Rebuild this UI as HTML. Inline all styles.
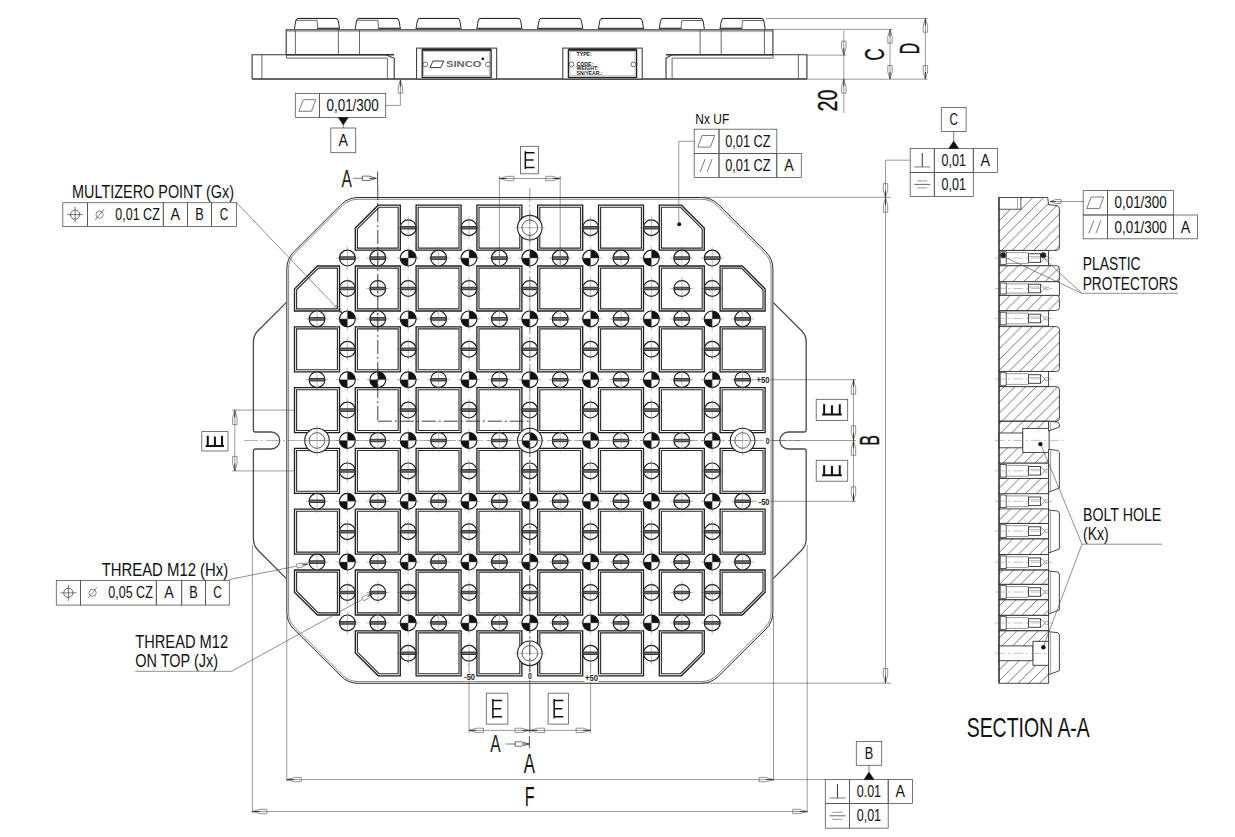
<!DOCTYPE html>
<html><head><meta charset="utf-8"><style>
html,body{margin:0;padding:0;background:#fff;width:1235px;height:837px;overflow:hidden}
svg{display:block}
text{font-family:"Liberation Sans",sans-serif}
</style></head><body>
<svg width="1235" height="837" viewBox="0 0 1235 837" font-family="Liberation Sans, sans-serif">
<rect width="1235" height="837" fill="#fff"/>
<path d="M 358.2 197.5 L 701.4 197.5 Q 711.4 197.5 718.47 204.57 L 765.83 251.83 Q 772.9 258.9 772.9 268.9 L 772.9 612.1 Q 772.9 622.1 765.83 629.17 L 718.47 676.23 Q 711.4 683.3 701.4 683.3 L 358.2 683.3 Q 348.2 683.3 341.13 676.23 L 293.87 629.17 Q 286.8 622.1 286.8 612.1 L 286.8 268.9 Q 286.8 258.9 293.87 251.83 L 341.13 204.57 Q 348.2 197.5 358.2 197.5 Z" stroke="#2a2a2a" stroke-width="1.0" fill="none"/>
<path d="M 357.95 199.3 L 701.65 199.3 Q 710.65 199.3 717.02 205.66 L 764.74 253.28 Q 771.1 259.65 771.1 268.65 L 771.1 612.35 Q 771.1 621.35 764.74 627.72 L 717.02 675.14 Q 710.65 681.5 701.65 681.5 L 357.95 681.5 Q 348.95 681.5 342.58 675.14 L 294.96 627.72 Q 288.6 621.35 288.6 612.35 L 288.6 268.65 Q 288.6 259.65 294.96 253.28 L 342.58 205.66 Q 348.95 199.3 357.95 199.3 Z" stroke="#666" stroke-width="0.8" fill="none"/>
<path d="M 286.2 302.6 L 258 330.8 Q 253.4 335.4 253.4 341.9 L 253.4 430 Q 253.4 432 255.4 432 L 271.2 432 A 8.5 8.5 0 0 1 271.2 449 L 255.4 449 Q 253.4 449 253.4 451 L 253.4 539.1 Q 253.4 545.6 258 550.2 L 286.2 578.4" stroke="#4a4a4a" stroke-width="1.3" fill="none"/>
<path d="M 773.4 302.6 L 801.6 330.8 Q 806.2 335.4 806.2 341.9 L 806.2 430 Q 806.2 432 804.2 432 L 788.4 432 A 8.5 8.5 0 0 0 788.4 449 L 804.2 449 Q 806.2 449 806.2 451 L 806.2 539.1 Q 806.2 545.6 801.6 550.2 L 773.4 578.4" stroke="#4a4a4a" stroke-width="1.3" fill="none"/>
<polygon points="355.3,228.08 378.18,205.2 400.3,205.2 400.3,250.2 355.3,250.2" stroke="#1e1e1e" stroke-width="1.3" fill="none"/>
<polygon points="357.4,228.95 379.05,207.3 398.2,207.3 398.2,248.1 357.4,248.1" stroke="#2a2a2a" stroke-width="1.1" fill="none"/>
<polygon points="416.1,205.2 461.1,205.2 461.1,250.2 416.1,250.2" stroke="#1e1e1e" stroke-width="1.3" fill="none"/>
<polygon points="418.2,207.3 459,207.3 459,248.1 418.2,248.1" stroke="#2a2a2a" stroke-width="1.1" fill="none"/>
<polygon points="476.9,205.2 521.9,205.2 521.9,250.2 476.9,250.2" stroke="#1e1e1e" stroke-width="1.3" fill="none"/>
<polygon points="479,207.3 519.8,207.3 519.8,248.1 479,248.1" stroke="#2a2a2a" stroke-width="1.1" fill="none"/>
<polygon points="537.7,205.2 582.7,205.2 582.7,250.2 537.7,250.2" stroke="#1e1e1e" stroke-width="1.3" fill="none"/>
<polygon points="539.8,207.3 580.6,207.3 580.6,248.1 539.8,248.1" stroke="#2a2a2a" stroke-width="1.1" fill="none"/>
<polygon points="598.5,205.2 643.5,205.2 643.5,250.2 598.5,250.2" stroke="#1e1e1e" stroke-width="1.3" fill="none"/>
<polygon points="600.6,207.3 641.4,207.3 641.4,248.1 600.6,248.1" stroke="#2a2a2a" stroke-width="1.1" fill="none"/>
<polygon points="659.3,205.2 681.42,205.2 704.3,228.08 704.3,250.2 659.3,250.2" stroke="#1e1e1e" stroke-width="1.3" fill="none"/>
<polygon points="661.4,207.3 680.55,207.3 702.2,228.95 702.2,248.1 661.4,248.1" stroke="#2a2a2a" stroke-width="1.1" fill="none"/>
<polygon points="294.5,288.88 317.38,266 339.5,266 339.5,311 294.5,311" stroke="#1e1e1e" stroke-width="1.3" fill="none"/>
<polygon points="296.6,289.75 318.25,268.1 337.4,268.1 337.4,308.9 296.6,308.9" stroke="#2a2a2a" stroke-width="1.1" fill="none"/>
<polygon points="355.3,266 400.3,266 400.3,311 355.3,311" stroke="#1e1e1e" stroke-width="1.3" fill="none"/>
<polygon points="357.4,268.1 398.2,268.1 398.2,308.9 357.4,308.9" stroke="#2a2a2a" stroke-width="1.1" fill="none"/>
<polygon points="416.1,266 461.1,266 461.1,311 416.1,311" stroke="#1e1e1e" stroke-width="1.3" fill="none"/>
<polygon points="418.2,268.1 459,268.1 459,308.9 418.2,308.9" stroke="#2a2a2a" stroke-width="1.1" fill="none"/>
<polygon points="476.9,266 521.9,266 521.9,311 476.9,311" stroke="#1e1e1e" stroke-width="1.3" fill="none"/>
<polygon points="479,268.1 519.8,268.1 519.8,308.9 479,308.9" stroke="#2a2a2a" stroke-width="1.1" fill="none"/>
<polygon points="537.7,266 582.7,266 582.7,311 537.7,311" stroke="#1e1e1e" stroke-width="1.3" fill="none"/>
<polygon points="539.8,268.1 580.6,268.1 580.6,308.9 539.8,308.9" stroke="#2a2a2a" stroke-width="1.1" fill="none"/>
<polygon points="598.5,266 643.5,266 643.5,311 598.5,311" stroke="#1e1e1e" stroke-width="1.3" fill="none"/>
<polygon points="600.6,268.1 641.4,268.1 641.4,308.9 600.6,308.9" stroke="#2a2a2a" stroke-width="1.1" fill="none"/>
<polygon points="659.3,266 704.3,266 704.3,311 659.3,311" stroke="#1e1e1e" stroke-width="1.3" fill="none"/>
<polygon points="661.4,268.1 702.2,268.1 702.2,308.9 661.4,308.9" stroke="#2a2a2a" stroke-width="1.1" fill="none"/>
<polygon points="720.1,266 742.22,266 765.1,288.88 765.1,311 720.1,311" stroke="#1e1e1e" stroke-width="1.3" fill="none"/>
<polygon points="722.2,268.1 741.35,268.1 763,289.75 763,308.9 722.2,308.9" stroke="#2a2a2a" stroke-width="1.1" fill="none"/>
<polygon points="294.5,326.8 339.5,326.8 339.5,371.8 294.5,371.8" stroke="#1e1e1e" stroke-width="1.3" fill="none"/>
<polygon points="296.6,328.9 337.4,328.9 337.4,369.7 296.6,369.7" stroke="#2a2a2a" stroke-width="1.1" fill="none"/>
<polygon points="355.3,326.8 400.3,326.8 400.3,371.8 355.3,371.8" stroke="#1e1e1e" stroke-width="1.3" fill="none"/>
<polygon points="357.4,328.9 398.2,328.9 398.2,369.7 357.4,369.7" stroke="#2a2a2a" stroke-width="1.1" fill="none"/>
<polygon points="416.1,326.8 461.1,326.8 461.1,371.8 416.1,371.8" stroke="#1e1e1e" stroke-width="1.3" fill="none"/>
<polygon points="418.2,328.9 459,328.9 459,369.7 418.2,369.7" stroke="#2a2a2a" stroke-width="1.1" fill="none"/>
<polygon points="476.9,326.8 521.9,326.8 521.9,371.8 476.9,371.8" stroke="#1e1e1e" stroke-width="1.3" fill="none"/>
<polygon points="479,328.9 519.8,328.9 519.8,369.7 479,369.7" stroke="#2a2a2a" stroke-width="1.1" fill="none"/>
<polygon points="537.7,326.8 582.7,326.8 582.7,371.8 537.7,371.8" stroke="#1e1e1e" stroke-width="1.3" fill="none"/>
<polygon points="539.8,328.9 580.6,328.9 580.6,369.7 539.8,369.7" stroke="#2a2a2a" stroke-width="1.1" fill="none"/>
<polygon points="598.5,326.8 643.5,326.8 643.5,371.8 598.5,371.8" stroke="#1e1e1e" stroke-width="1.3" fill="none"/>
<polygon points="600.6,328.9 641.4,328.9 641.4,369.7 600.6,369.7" stroke="#2a2a2a" stroke-width="1.1" fill="none"/>
<polygon points="659.3,326.8 704.3,326.8 704.3,371.8 659.3,371.8" stroke="#1e1e1e" stroke-width="1.3" fill="none"/>
<polygon points="661.4,328.9 702.2,328.9 702.2,369.7 661.4,369.7" stroke="#2a2a2a" stroke-width="1.1" fill="none"/>
<polygon points="720.1,326.8 765.1,326.8 765.1,371.8 720.1,371.8" stroke="#1e1e1e" stroke-width="1.3" fill="none"/>
<polygon points="722.2,328.9 763,328.9 763,369.7 722.2,369.7" stroke="#2a2a2a" stroke-width="1.1" fill="none"/>
<polygon points="294.5,387.6 339.5,387.6 339.5,432.6 294.5,432.6" stroke="#1e1e1e" stroke-width="1.3" fill="none"/>
<polygon points="296.6,389.7 337.4,389.7 337.4,430.5 296.6,430.5" stroke="#2a2a2a" stroke-width="1.1" fill="none"/>
<polygon points="355.3,387.6 400.3,387.6 400.3,432.6 355.3,432.6" stroke="#1e1e1e" stroke-width="1.3" fill="none"/>
<polygon points="357.4,389.7 398.2,389.7 398.2,430.5 357.4,430.5" stroke="#2a2a2a" stroke-width="1.1" fill="none"/>
<polygon points="416.1,387.6 461.1,387.6 461.1,432.6 416.1,432.6" stroke="#1e1e1e" stroke-width="1.3" fill="none"/>
<polygon points="418.2,389.7 459,389.7 459,430.5 418.2,430.5" stroke="#2a2a2a" stroke-width="1.1" fill="none"/>
<polygon points="476.9,387.6 521.9,387.6 521.9,432.6 476.9,432.6" stroke="#1e1e1e" stroke-width="1.3" fill="none"/>
<polygon points="479,389.7 519.8,389.7 519.8,430.5 479,430.5" stroke="#2a2a2a" stroke-width="1.1" fill="none"/>
<polygon points="537.7,387.6 582.7,387.6 582.7,432.6 537.7,432.6" stroke="#1e1e1e" stroke-width="1.3" fill="none"/>
<polygon points="539.8,389.7 580.6,389.7 580.6,430.5 539.8,430.5" stroke="#2a2a2a" stroke-width="1.1" fill="none"/>
<polygon points="598.5,387.6 643.5,387.6 643.5,432.6 598.5,432.6" stroke="#1e1e1e" stroke-width="1.3" fill="none"/>
<polygon points="600.6,389.7 641.4,389.7 641.4,430.5 600.6,430.5" stroke="#2a2a2a" stroke-width="1.1" fill="none"/>
<polygon points="659.3,387.6 704.3,387.6 704.3,432.6 659.3,432.6" stroke="#1e1e1e" stroke-width="1.3" fill="none"/>
<polygon points="661.4,389.7 702.2,389.7 702.2,430.5 661.4,430.5" stroke="#2a2a2a" stroke-width="1.1" fill="none"/>
<polygon points="720.1,387.6 765.1,387.6 765.1,432.6 720.1,432.6" stroke="#1e1e1e" stroke-width="1.3" fill="none"/>
<polygon points="722.2,389.7 763,389.7 763,430.5 722.2,430.5" stroke="#2a2a2a" stroke-width="1.1" fill="none"/>
<polygon points="294.5,448.4 339.5,448.4 339.5,493.4 294.5,493.4" stroke="#1e1e1e" stroke-width="1.3" fill="none"/>
<polygon points="296.6,450.5 337.4,450.5 337.4,491.3 296.6,491.3" stroke="#2a2a2a" stroke-width="1.1" fill="none"/>
<polygon points="355.3,448.4 400.3,448.4 400.3,493.4 355.3,493.4" stroke="#1e1e1e" stroke-width="1.3" fill="none"/>
<polygon points="357.4,450.5 398.2,450.5 398.2,491.3 357.4,491.3" stroke="#2a2a2a" stroke-width="1.1" fill="none"/>
<polygon points="416.1,448.4 461.1,448.4 461.1,493.4 416.1,493.4" stroke="#1e1e1e" stroke-width="1.3" fill="none"/>
<polygon points="418.2,450.5 459,450.5 459,491.3 418.2,491.3" stroke="#2a2a2a" stroke-width="1.1" fill="none"/>
<polygon points="476.9,448.4 521.9,448.4 521.9,493.4 476.9,493.4" stroke="#1e1e1e" stroke-width="1.3" fill="none"/>
<polygon points="479,450.5 519.8,450.5 519.8,491.3 479,491.3" stroke="#2a2a2a" stroke-width="1.1" fill="none"/>
<polygon points="537.7,448.4 582.7,448.4 582.7,493.4 537.7,493.4" stroke="#1e1e1e" stroke-width="1.3" fill="none"/>
<polygon points="539.8,450.5 580.6,450.5 580.6,491.3 539.8,491.3" stroke="#2a2a2a" stroke-width="1.1" fill="none"/>
<polygon points="598.5,448.4 643.5,448.4 643.5,493.4 598.5,493.4" stroke="#1e1e1e" stroke-width="1.3" fill="none"/>
<polygon points="600.6,450.5 641.4,450.5 641.4,491.3 600.6,491.3" stroke="#2a2a2a" stroke-width="1.1" fill="none"/>
<polygon points="659.3,448.4 704.3,448.4 704.3,493.4 659.3,493.4" stroke="#1e1e1e" stroke-width="1.3" fill="none"/>
<polygon points="661.4,450.5 702.2,450.5 702.2,491.3 661.4,491.3" stroke="#2a2a2a" stroke-width="1.1" fill="none"/>
<polygon points="720.1,448.4 765.1,448.4 765.1,493.4 720.1,493.4" stroke="#1e1e1e" stroke-width="1.3" fill="none"/>
<polygon points="722.2,450.5 763,450.5 763,491.3 722.2,491.3" stroke="#2a2a2a" stroke-width="1.1" fill="none"/>
<polygon points="294.5,509.2 339.5,509.2 339.5,554.2 294.5,554.2" stroke="#1e1e1e" stroke-width="1.3" fill="none"/>
<polygon points="296.6,511.3 337.4,511.3 337.4,552.1 296.6,552.1" stroke="#2a2a2a" stroke-width="1.1" fill="none"/>
<polygon points="355.3,509.2 400.3,509.2 400.3,554.2 355.3,554.2" stroke="#1e1e1e" stroke-width="1.3" fill="none"/>
<polygon points="357.4,511.3 398.2,511.3 398.2,552.1 357.4,552.1" stroke="#2a2a2a" stroke-width="1.1" fill="none"/>
<polygon points="416.1,509.2 461.1,509.2 461.1,554.2 416.1,554.2" stroke="#1e1e1e" stroke-width="1.3" fill="none"/>
<polygon points="418.2,511.3 459,511.3 459,552.1 418.2,552.1" stroke="#2a2a2a" stroke-width="1.1" fill="none"/>
<polygon points="476.9,509.2 521.9,509.2 521.9,554.2 476.9,554.2" stroke="#1e1e1e" stroke-width="1.3" fill="none"/>
<polygon points="479,511.3 519.8,511.3 519.8,552.1 479,552.1" stroke="#2a2a2a" stroke-width="1.1" fill="none"/>
<polygon points="537.7,509.2 582.7,509.2 582.7,554.2 537.7,554.2" stroke="#1e1e1e" stroke-width="1.3" fill="none"/>
<polygon points="539.8,511.3 580.6,511.3 580.6,552.1 539.8,552.1" stroke="#2a2a2a" stroke-width="1.1" fill="none"/>
<polygon points="598.5,509.2 643.5,509.2 643.5,554.2 598.5,554.2" stroke="#1e1e1e" stroke-width="1.3" fill="none"/>
<polygon points="600.6,511.3 641.4,511.3 641.4,552.1 600.6,552.1" stroke="#2a2a2a" stroke-width="1.1" fill="none"/>
<polygon points="659.3,509.2 704.3,509.2 704.3,554.2 659.3,554.2" stroke="#1e1e1e" stroke-width="1.3" fill="none"/>
<polygon points="661.4,511.3 702.2,511.3 702.2,552.1 661.4,552.1" stroke="#2a2a2a" stroke-width="1.1" fill="none"/>
<polygon points="720.1,509.2 765.1,509.2 765.1,554.2 720.1,554.2" stroke="#1e1e1e" stroke-width="1.3" fill="none"/>
<polygon points="722.2,511.3 763,511.3 763,552.1 722.2,552.1" stroke="#2a2a2a" stroke-width="1.1" fill="none"/>
<polygon points="294.5,570 339.5,570 339.5,615 317.38,615 294.5,592.12" stroke="#1e1e1e" stroke-width="1.3" fill="none"/>
<polygon points="296.6,572.1 337.4,572.1 337.4,612.9 318.25,612.9 296.6,591.25" stroke="#2a2a2a" stroke-width="1.1" fill="none"/>
<polygon points="355.3,570 400.3,570 400.3,615 355.3,615" stroke="#1e1e1e" stroke-width="1.3" fill="none"/>
<polygon points="357.4,572.1 398.2,572.1 398.2,612.9 357.4,612.9" stroke="#2a2a2a" stroke-width="1.1" fill="none"/>
<polygon points="416.1,570 461.1,570 461.1,615 416.1,615" stroke="#1e1e1e" stroke-width="1.3" fill="none"/>
<polygon points="418.2,572.1 459,572.1 459,612.9 418.2,612.9" stroke="#2a2a2a" stroke-width="1.1" fill="none"/>
<polygon points="476.9,570 521.9,570 521.9,615 476.9,615" stroke="#1e1e1e" stroke-width="1.3" fill="none"/>
<polygon points="479,572.1 519.8,572.1 519.8,612.9 479,612.9" stroke="#2a2a2a" stroke-width="1.1" fill="none"/>
<polygon points="537.7,570 582.7,570 582.7,615 537.7,615" stroke="#1e1e1e" stroke-width="1.3" fill="none"/>
<polygon points="539.8,572.1 580.6,572.1 580.6,612.9 539.8,612.9" stroke="#2a2a2a" stroke-width="1.1" fill="none"/>
<polygon points="598.5,570 643.5,570 643.5,615 598.5,615" stroke="#1e1e1e" stroke-width="1.3" fill="none"/>
<polygon points="600.6,572.1 641.4,572.1 641.4,612.9 600.6,612.9" stroke="#2a2a2a" stroke-width="1.1" fill="none"/>
<polygon points="659.3,570 704.3,570 704.3,615 659.3,615" stroke="#1e1e1e" stroke-width="1.3" fill="none"/>
<polygon points="661.4,572.1 702.2,572.1 702.2,612.9 661.4,612.9" stroke="#2a2a2a" stroke-width="1.1" fill="none"/>
<polygon points="720.1,570 765.1,570 765.1,592.12 742.22,615 720.1,615" stroke="#1e1e1e" stroke-width="1.3" fill="none"/>
<polygon points="722.2,572.1 763,572.1 763,591.25 741.35,612.9 722.2,612.9" stroke="#2a2a2a" stroke-width="1.1" fill="none"/>
<polygon points="355.3,630.8 400.3,630.8 400.3,675.8 378.18,675.8 355.3,652.92" stroke="#1e1e1e" stroke-width="1.3" fill="none"/>
<polygon points="357.4,632.9 398.2,632.9 398.2,673.7 379.05,673.7 357.4,652.05" stroke="#2a2a2a" stroke-width="1.1" fill="none"/>
<polygon points="416.1,630.8 461.1,630.8 461.1,675.8 416.1,675.8" stroke="#1e1e1e" stroke-width="1.3" fill="none"/>
<polygon points="418.2,632.9 459,632.9 459,673.7 418.2,673.7" stroke="#2a2a2a" stroke-width="1.1" fill="none"/>
<polygon points="476.9,630.8 521.9,630.8 521.9,675.8 476.9,675.8" stroke="#1e1e1e" stroke-width="1.3" fill="none"/>
<polygon points="479,632.9 519.8,632.9 519.8,673.7 479,673.7" stroke="#2a2a2a" stroke-width="1.1" fill="none"/>
<polygon points="537.7,630.8 582.7,630.8 582.7,675.8 537.7,675.8" stroke="#1e1e1e" stroke-width="1.3" fill="none"/>
<polygon points="539.8,632.9 580.6,632.9 580.6,673.7 539.8,673.7" stroke="#2a2a2a" stroke-width="1.1" fill="none"/>
<polygon points="598.5,630.8 643.5,630.8 643.5,675.8 598.5,675.8" stroke="#1e1e1e" stroke-width="1.3" fill="none"/>
<polygon points="600.6,632.9 641.4,632.9 641.4,673.7 600.6,673.7" stroke="#2a2a2a" stroke-width="1.1" fill="none"/>
<polygon points="659.3,630.8 704.3,630.8 704.3,652.92 681.42,675.8 659.3,675.8" stroke="#1e1e1e" stroke-width="1.3" fill="none"/>
<polygon points="661.4,632.9 702.2,632.9 702.2,652.05 680.55,673.7 661.4,673.7" stroke="#2a2a2a" stroke-width="1.1" fill="none"/>
<circle cx="347.4" cy="258.1" r="7.9" stroke="#1e1e1e" stroke-width="1.2" fill="#fff"/>
<line x1="335.9" y1="258.1" x2="358.9" y2="258.1" stroke="#777" stroke-width="0.5"/>
<line x1="347.4" y1="246.6" x2="347.4" y2="269.6" stroke="#777" stroke-width="0.5"/>
<rect x="339.8" y="256.8" width="15.2" height="2.6" fill="#6a6a6a" stroke="#1e1e1e" stroke-width="0.8"/>
<circle cx="408.2" cy="258.1" r="7.9" stroke="#1e1e1e" stroke-width="1.2" fill="#fff"/>
<path d="M 408.2 258.1 L 408.2 250.2 A 7.9 7.9 0 0 1 416.1 258.1 Z" fill="#111"/>
<path d="M 408.2 258.1 L 408.2 266 A 7.9 7.9 0 0 1 400.3 258.1 Z" fill="#111"/>
<line x1="396.7" y1="258.1" x2="419.7" y2="258.1" stroke="#777" stroke-width="0.5"/>
<line x1="408.2" y1="246.6" x2="408.2" y2="269.6" stroke="#777" stroke-width="0.5"/>
<circle cx="469" cy="258.1" r="7.9" stroke="#1e1e1e" stroke-width="1.2" fill="#fff"/>
<path d="M 469 258.1 L 469 250.2 A 7.9 7.9 0 0 1 476.9 258.1 Z" fill="#111"/>
<path d="M 469 258.1 L 469 266 A 7.9 7.9 0 0 1 461.1 258.1 Z" fill="#111"/>
<line x1="457.5" y1="258.1" x2="480.5" y2="258.1" stroke="#777" stroke-width="0.5"/>
<line x1="469" y1="246.6" x2="469" y2="269.6" stroke="#777" stroke-width="0.5"/>
<circle cx="529.8" cy="258.1" r="7.9" stroke="#1e1e1e" stroke-width="1.2" fill="#fff"/>
<path d="M 529.8 258.1 L 529.8 250.2 A 7.9 7.9 0 0 1 537.7 258.1 Z" fill="#111"/>
<path d="M 529.8 258.1 L 529.8 266 A 7.9 7.9 0 0 1 521.9 258.1 Z" fill="#111"/>
<line x1="518.3" y1="258.1" x2="541.3" y2="258.1" stroke="#777" stroke-width="0.5"/>
<line x1="529.8" y1="246.6" x2="529.8" y2="269.6" stroke="#777" stroke-width="0.5"/>
<circle cx="590.6" cy="258.1" r="7.9" stroke="#1e1e1e" stroke-width="1.2" fill="#fff"/>
<path d="M 590.6 258.1 L 590.6 250.2 A 7.9 7.9 0 0 1 598.5 258.1 Z" fill="#111"/>
<path d="M 590.6 258.1 L 590.6 266 A 7.9 7.9 0 0 1 582.7 258.1 Z" fill="#111"/>
<line x1="579.1" y1="258.1" x2="602.1" y2="258.1" stroke="#777" stroke-width="0.5"/>
<line x1="590.6" y1="246.6" x2="590.6" y2="269.6" stroke="#777" stroke-width="0.5"/>
<circle cx="651.4" cy="258.1" r="7.9" stroke="#1e1e1e" stroke-width="1.2" fill="#fff"/>
<path d="M 651.4 258.1 L 651.4 250.2 A 7.9 7.9 0 0 1 659.3 258.1 Z" fill="#111"/>
<path d="M 651.4 258.1 L 651.4 266 A 7.9 7.9 0 0 1 643.5 258.1 Z" fill="#111"/>
<line x1="639.9" y1="258.1" x2="662.9" y2="258.1" stroke="#777" stroke-width="0.5"/>
<line x1="651.4" y1="246.6" x2="651.4" y2="269.6" stroke="#777" stroke-width="0.5"/>
<circle cx="712.2" cy="258.1" r="7.9" stroke="#1e1e1e" stroke-width="1.2" fill="#fff"/>
<line x1="700.7" y1="258.1" x2="723.7" y2="258.1" stroke="#777" stroke-width="0.5"/>
<line x1="712.2" y1="246.6" x2="712.2" y2="269.6" stroke="#777" stroke-width="0.5"/>
<rect x="704.6" y="256.8" width="15.2" height="2.6" fill="#6a6a6a" stroke="#1e1e1e" stroke-width="0.8"/>
<circle cx="347.4" cy="318.9" r="7.9" stroke="#1e1e1e" stroke-width="1.2" fill="#fff"/>
<path d="M 347.4 318.9 L 347.4 311 A 7.9 7.9 0 0 1 355.3 318.9 Z" fill="#111"/>
<path d="M 347.4 318.9 L 347.4 326.8 A 7.9 7.9 0 0 1 339.5 318.9 Z" fill="#111"/>
<line x1="335.9" y1="318.9" x2="358.9" y2="318.9" stroke="#777" stroke-width="0.5"/>
<line x1="347.4" y1="307.4" x2="347.4" y2="330.4" stroke="#777" stroke-width="0.5"/>
<circle cx="408.2" cy="318.9" r="7.9" stroke="#1e1e1e" stroke-width="1.2" fill="#fff"/>
<path d="M 408.2 318.9 L 408.2 311 A 7.9 7.9 0 0 1 416.1 318.9 Z" fill="#111"/>
<path d="M 408.2 318.9 L 408.2 326.8 A 7.9 7.9 0 0 1 400.3 318.9 Z" fill="#111"/>
<line x1="396.7" y1="318.9" x2="419.7" y2="318.9" stroke="#777" stroke-width="0.5"/>
<line x1="408.2" y1="307.4" x2="408.2" y2="330.4" stroke="#777" stroke-width="0.5"/>
<circle cx="469" cy="318.9" r="7.9" stroke="#1e1e1e" stroke-width="1.2" fill="#fff"/>
<path d="M 469 318.9 L 469 311 A 7.9 7.9 0 0 1 476.9 318.9 Z" fill="#111"/>
<path d="M 469 318.9 L 469 326.8 A 7.9 7.9 0 0 1 461.1 318.9 Z" fill="#111"/>
<line x1="457.5" y1="318.9" x2="480.5" y2="318.9" stroke="#777" stroke-width="0.5"/>
<line x1="469" y1="307.4" x2="469" y2="330.4" stroke="#777" stroke-width="0.5"/>
<circle cx="529.8" cy="318.9" r="7.9" stroke="#1e1e1e" stroke-width="1.2" fill="#fff"/>
<path d="M 529.8 318.9 L 529.8 311 A 7.9 7.9 0 0 1 537.7 318.9 Z" fill="#111"/>
<path d="M 529.8 318.9 L 529.8 326.8 A 7.9 7.9 0 0 1 521.9 318.9 Z" fill="#111"/>
<line x1="518.3" y1="318.9" x2="541.3" y2="318.9" stroke="#777" stroke-width="0.5"/>
<line x1="529.8" y1="307.4" x2="529.8" y2="330.4" stroke="#777" stroke-width="0.5"/>
<circle cx="590.6" cy="318.9" r="7.9" stroke="#1e1e1e" stroke-width="1.2" fill="#fff"/>
<path d="M 590.6 318.9 L 590.6 311 A 7.9 7.9 0 0 1 598.5 318.9 Z" fill="#111"/>
<path d="M 590.6 318.9 L 590.6 326.8 A 7.9 7.9 0 0 1 582.7 318.9 Z" fill="#111"/>
<line x1="579.1" y1="318.9" x2="602.1" y2="318.9" stroke="#777" stroke-width="0.5"/>
<line x1="590.6" y1="307.4" x2="590.6" y2="330.4" stroke="#777" stroke-width="0.5"/>
<circle cx="651.4" cy="318.9" r="7.9" stroke="#1e1e1e" stroke-width="1.2" fill="#fff"/>
<path d="M 651.4 318.9 L 651.4 311 A 7.9 7.9 0 0 1 659.3 318.9 Z" fill="#111"/>
<path d="M 651.4 318.9 L 651.4 326.8 A 7.9 7.9 0 0 1 643.5 318.9 Z" fill="#111"/>
<line x1="639.9" y1="318.9" x2="662.9" y2="318.9" stroke="#777" stroke-width="0.5"/>
<line x1="651.4" y1="307.4" x2="651.4" y2="330.4" stroke="#777" stroke-width="0.5"/>
<circle cx="712.2" cy="318.9" r="7.9" stroke="#1e1e1e" stroke-width="1.2" fill="#fff"/>
<path d="M 712.2 318.9 L 712.2 311 A 7.9 7.9 0 0 1 720.1 318.9 Z" fill="#111"/>
<path d="M 712.2 318.9 L 712.2 326.8 A 7.9 7.9 0 0 1 704.3 318.9 Z" fill="#111"/>
<line x1="700.7" y1="318.9" x2="723.7" y2="318.9" stroke="#777" stroke-width="0.5"/>
<line x1="712.2" y1="307.4" x2="712.2" y2="330.4" stroke="#777" stroke-width="0.5"/>
<circle cx="347.4" cy="379.7" r="7.9" stroke="#1e1e1e" stroke-width="1.2" fill="#fff"/>
<path d="M 347.4 379.7 L 347.4 371.8 A 7.9 7.9 0 0 1 355.3 379.7 Z" fill="#111"/>
<path d="M 347.4 379.7 L 347.4 387.6 A 7.9 7.9 0 0 1 339.5 379.7 Z" fill="#111"/>
<line x1="335.9" y1="379.7" x2="358.9" y2="379.7" stroke="#777" stroke-width="0.5"/>
<line x1="347.4" y1="368.2" x2="347.4" y2="391.2" stroke="#777" stroke-width="0.5"/>
<circle cx="408.2" cy="379.7" r="7.9" stroke="#1e1e1e" stroke-width="1.2" fill="#fff"/>
<path d="M 408.2 379.7 L 408.2 371.8 A 7.9 7.9 0 0 1 416.1 379.7 Z" fill="#111"/>
<path d="M 408.2 379.7 L 408.2 387.6 A 7.9 7.9 0 0 1 400.3 379.7 Z" fill="#111"/>
<line x1="396.7" y1="379.7" x2="419.7" y2="379.7" stroke="#777" stroke-width="0.5"/>
<line x1="408.2" y1="368.2" x2="408.2" y2="391.2" stroke="#777" stroke-width="0.5"/>
<circle cx="469" cy="379.7" r="7.9" stroke="#1e1e1e" stroke-width="1.2" fill="#fff"/>
<path d="M 469 379.7 L 469 371.8 A 7.9 7.9 0 0 1 476.9 379.7 Z" fill="#111"/>
<path d="M 469 379.7 L 469 387.6 A 7.9 7.9 0 0 1 461.1 379.7 Z" fill="#111"/>
<line x1="457.5" y1="379.7" x2="480.5" y2="379.7" stroke="#777" stroke-width="0.5"/>
<line x1="469" y1="368.2" x2="469" y2="391.2" stroke="#777" stroke-width="0.5"/>
<circle cx="529.8" cy="379.7" r="7.9" stroke="#1e1e1e" stroke-width="1.2" fill="#fff"/>
<path d="M 529.8 379.7 L 529.8 371.8 A 7.9 7.9 0 0 1 537.7 379.7 Z" fill="#111"/>
<path d="M 529.8 379.7 L 529.8 387.6 A 7.9 7.9 0 0 1 521.9 379.7 Z" fill="#111"/>
<line x1="518.3" y1="379.7" x2="541.3" y2="379.7" stroke="#777" stroke-width="0.5"/>
<line x1="529.8" y1="368.2" x2="529.8" y2="391.2" stroke="#777" stroke-width="0.5"/>
<circle cx="590.6" cy="379.7" r="7.9" stroke="#1e1e1e" stroke-width="1.2" fill="#fff"/>
<path d="M 590.6 379.7 L 590.6 371.8 A 7.9 7.9 0 0 1 598.5 379.7 Z" fill="#111"/>
<path d="M 590.6 379.7 L 590.6 387.6 A 7.9 7.9 0 0 1 582.7 379.7 Z" fill="#111"/>
<line x1="579.1" y1="379.7" x2="602.1" y2="379.7" stroke="#777" stroke-width="0.5"/>
<line x1="590.6" y1="368.2" x2="590.6" y2="391.2" stroke="#777" stroke-width="0.5"/>
<circle cx="651.4" cy="379.7" r="7.9" stroke="#1e1e1e" stroke-width="1.2" fill="#fff"/>
<path d="M 651.4 379.7 L 651.4 371.8 A 7.9 7.9 0 0 1 659.3 379.7 Z" fill="#111"/>
<path d="M 651.4 379.7 L 651.4 387.6 A 7.9 7.9 0 0 1 643.5 379.7 Z" fill="#111"/>
<line x1="639.9" y1="379.7" x2="662.9" y2="379.7" stroke="#777" stroke-width="0.5"/>
<line x1="651.4" y1="368.2" x2="651.4" y2="391.2" stroke="#777" stroke-width="0.5"/>
<circle cx="712.2" cy="379.7" r="7.9" stroke="#1e1e1e" stroke-width="1.2" fill="#fff"/>
<path d="M 712.2 379.7 L 712.2 371.8 A 7.9 7.9 0 0 1 720.1 379.7 Z" fill="#111"/>
<path d="M 712.2 379.7 L 712.2 387.6 A 7.9 7.9 0 0 1 704.3 379.7 Z" fill="#111"/>
<line x1="700.7" y1="379.7" x2="723.7" y2="379.7" stroke="#777" stroke-width="0.5"/>
<line x1="712.2" y1="368.2" x2="712.2" y2="391.2" stroke="#777" stroke-width="0.5"/>
<circle cx="347.4" cy="440.5" r="7.9" stroke="#1e1e1e" stroke-width="1.2" fill="#fff"/>
<path d="M 347.4 440.5 L 347.4 432.6 A 7.9 7.9 0 0 1 355.3 440.5 Z" fill="#111"/>
<path d="M 347.4 440.5 L 347.4 448.4 A 7.9 7.9 0 0 1 339.5 440.5 Z" fill="#111"/>
<line x1="335.9" y1="440.5" x2="358.9" y2="440.5" stroke="#777" stroke-width="0.5"/>
<line x1="347.4" y1="429" x2="347.4" y2="452" stroke="#777" stroke-width="0.5"/>
<circle cx="408.2" cy="440.5" r="7.9" stroke="#1e1e1e" stroke-width="1.2" fill="#fff"/>
<path d="M 408.2 440.5 L 408.2 432.6 A 7.9 7.9 0 0 1 416.1 440.5 Z" fill="#111"/>
<path d="M 408.2 440.5 L 408.2 448.4 A 7.9 7.9 0 0 1 400.3 440.5 Z" fill="#111"/>
<line x1="396.7" y1="440.5" x2="419.7" y2="440.5" stroke="#777" stroke-width="0.5"/>
<line x1="408.2" y1="429" x2="408.2" y2="452" stroke="#777" stroke-width="0.5"/>
<circle cx="469" cy="440.5" r="7.9" stroke="#1e1e1e" stroke-width="1.2" fill="#fff"/>
<path d="M 469 440.5 L 469 432.6 A 7.9 7.9 0 0 1 476.9 440.5 Z" fill="#111"/>
<path d="M 469 440.5 L 469 448.4 A 7.9 7.9 0 0 1 461.1 440.5 Z" fill="#111"/>
<line x1="457.5" y1="440.5" x2="480.5" y2="440.5" stroke="#777" stroke-width="0.5"/>
<line x1="469" y1="429" x2="469" y2="452" stroke="#777" stroke-width="0.5"/>
<circle cx="529.8" cy="440.5" r="12.3" stroke="#222" stroke-width="1.1" fill="#fff"/>
<circle cx="529.8" cy="440.5" r="7.6" stroke="#1e1e1e" stroke-width="1.2" fill="#fff"/>
<path d="M 529.8 440.5 L 529.8 432.9 A 7.6 7.6 0 0 1 537.4 440.5 Z" fill="#111"/>
<path d="M 529.8 440.5 L 529.8 448.1 A 7.6 7.6 0 0 1 522.2 440.5 Z" fill="#111"/>
<line x1="518.3" y1="440.5" x2="541.3" y2="440.5" stroke="#777" stroke-width="0.5"/>
<line x1="529.8" y1="429" x2="529.8" y2="452" stroke="#777" stroke-width="0.5"/>
<circle cx="590.6" cy="440.5" r="7.9" stroke="#1e1e1e" stroke-width="1.2" fill="#fff"/>
<path d="M 590.6 440.5 L 590.6 432.6 A 7.9 7.9 0 0 1 598.5 440.5 Z" fill="#111"/>
<path d="M 590.6 440.5 L 590.6 448.4 A 7.9 7.9 0 0 1 582.7 440.5 Z" fill="#111"/>
<line x1="579.1" y1="440.5" x2="602.1" y2="440.5" stroke="#777" stroke-width="0.5"/>
<line x1="590.6" y1="429" x2="590.6" y2="452" stroke="#777" stroke-width="0.5"/>
<circle cx="651.4" cy="440.5" r="7.9" stroke="#1e1e1e" stroke-width="1.2" fill="#fff"/>
<path d="M 651.4 440.5 L 651.4 432.6 A 7.9 7.9 0 0 1 659.3 440.5 Z" fill="#111"/>
<path d="M 651.4 440.5 L 651.4 448.4 A 7.9 7.9 0 0 1 643.5 440.5 Z" fill="#111"/>
<line x1="639.9" y1="440.5" x2="662.9" y2="440.5" stroke="#777" stroke-width="0.5"/>
<line x1="651.4" y1="429" x2="651.4" y2="452" stroke="#777" stroke-width="0.5"/>
<circle cx="712.2" cy="440.5" r="7.9" stroke="#1e1e1e" stroke-width="1.2" fill="#fff"/>
<path d="M 712.2 440.5 L 712.2 432.6 A 7.9 7.9 0 0 1 720.1 440.5 Z" fill="#111"/>
<path d="M 712.2 440.5 L 712.2 448.4 A 7.9 7.9 0 0 1 704.3 440.5 Z" fill="#111"/>
<line x1="700.7" y1="440.5" x2="723.7" y2="440.5" stroke="#777" stroke-width="0.5"/>
<line x1="712.2" y1="429" x2="712.2" y2="452" stroke="#777" stroke-width="0.5"/>
<circle cx="347.4" cy="501.3" r="7.9" stroke="#1e1e1e" stroke-width="1.2" fill="#fff"/>
<path d="M 347.4 501.3 L 347.4 493.4 A 7.9 7.9 0 0 1 355.3 501.3 Z" fill="#111"/>
<path d="M 347.4 501.3 L 347.4 509.2 A 7.9 7.9 0 0 1 339.5 501.3 Z" fill="#111"/>
<line x1="335.9" y1="501.3" x2="358.9" y2="501.3" stroke="#777" stroke-width="0.5"/>
<line x1="347.4" y1="489.8" x2="347.4" y2="512.8" stroke="#777" stroke-width="0.5"/>
<circle cx="408.2" cy="501.3" r="7.9" stroke="#1e1e1e" stroke-width="1.2" fill="#fff"/>
<path d="M 408.2 501.3 L 408.2 493.4 A 7.9 7.9 0 0 1 416.1 501.3 Z" fill="#111"/>
<path d="M 408.2 501.3 L 408.2 509.2 A 7.9 7.9 0 0 1 400.3 501.3 Z" fill="#111"/>
<line x1="396.7" y1="501.3" x2="419.7" y2="501.3" stroke="#777" stroke-width="0.5"/>
<line x1="408.2" y1="489.8" x2="408.2" y2="512.8" stroke="#777" stroke-width="0.5"/>
<circle cx="469" cy="501.3" r="7.9" stroke="#1e1e1e" stroke-width="1.2" fill="#fff"/>
<path d="M 469 501.3 L 469 493.4 A 7.9 7.9 0 0 1 476.9 501.3 Z" fill="#111"/>
<path d="M 469 501.3 L 469 509.2 A 7.9 7.9 0 0 1 461.1 501.3 Z" fill="#111"/>
<line x1="457.5" y1="501.3" x2="480.5" y2="501.3" stroke="#777" stroke-width="0.5"/>
<line x1="469" y1="489.8" x2="469" y2="512.8" stroke="#777" stroke-width="0.5"/>
<circle cx="529.8" cy="501.3" r="7.9" stroke="#1e1e1e" stroke-width="1.2" fill="#fff"/>
<path d="M 529.8 501.3 L 529.8 493.4 A 7.9 7.9 0 0 1 537.7 501.3 Z" fill="#111"/>
<path d="M 529.8 501.3 L 529.8 509.2 A 7.9 7.9 0 0 1 521.9 501.3 Z" fill="#111"/>
<line x1="518.3" y1="501.3" x2="541.3" y2="501.3" stroke="#777" stroke-width="0.5"/>
<line x1="529.8" y1="489.8" x2="529.8" y2="512.8" stroke="#777" stroke-width="0.5"/>
<circle cx="590.6" cy="501.3" r="7.9" stroke="#1e1e1e" stroke-width="1.2" fill="#fff"/>
<path d="M 590.6 501.3 L 590.6 493.4 A 7.9 7.9 0 0 1 598.5 501.3 Z" fill="#111"/>
<path d="M 590.6 501.3 L 590.6 509.2 A 7.9 7.9 0 0 1 582.7 501.3 Z" fill="#111"/>
<line x1="579.1" y1="501.3" x2="602.1" y2="501.3" stroke="#777" stroke-width="0.5"/>
<line x1="590.6" y1="489.8" x2="590.6" y2="512.8" stroke="#777" stroke-width="0.5"/>
<circle cx="651.4" cy="501.3" r="7.9" stroke="#1e1e1e" stroke-width="1.2" fill="#fff"/>
<path d="M 651.4 501.3 L 651.4 493.4 A 7.9 7.9 0 0 1 659.3 501.3 Z" fill="#111"/>
<path d="M 651.4 501.3 L 651.4 509.2 A 7.9 7.9 0 0 1 643.5 501.3 Z" fill="#111"/>
<line x1="639.9" y1="501.3" x2="662.9" y2="501.3" stroke="#777" stroke-width="0.5"/>
<line x1="651.4" y1="489.8" x2="651.4" y2="512.8" stroke="#777" stroke-width="0.5"/>
<circle cx="712.2" cy="501.3" r="7.9" stroke="#1e1e1e" stroke-width="1.2" fill="#fff"/>
<path d="M 712.2 501.3 L 712.2 493.4 A 7.9 7.9 0 0 1 720.1 501.3 Z" fill="#111"/>
<path d="M 712.2 501.3 L 712.2 509.2 A 7.9 7.9 0 0 1 704.3 501.3 Z" fill="#111"/>
<line x1="700.7" y1="501.3" x2="723.7" y2="501.3" stroke="#777" stroke-width="0.5"/>
<line x1="712.2" y1="489.8" x2="712.2" y2="512.8" stroke="#777" stroke-width="0.5"/>
<circle cx="347.4" cy="562.1" r="7.9" stroke="#1e1e1e" stroke-width="1.2" fill="#fff"/>
<path d="M 347.4 562.1 L 347.4 554.2 A 7.9 7.9 0 0 1 355.3 562.1 Z" fill="#111"/>
<path d="M 347.4 562.1 L 347.4 570 A 7.9 7.9 0 0 1 339.5 562.1 Z" fill="#111"/>
<line x1="335.9" y1="562.1" x2="358.9" y2="562.1" stroke="#777" stroke-width="0.5"/>
<line x1="347.4" y1="550.6" x2="347.4" y2="573.6" stroke="#777" stroke-width="0.5"/>
<circle cx="408.2" cy="562.1" r="7.9" stroke="#1e1e1e" stroke-width="1.2" fill="#fff"/>
<path d="M 408.2 562.1 L 408.2 554.2 A 7.9 7.9 0 0 1 416.1 562.1 Z" fill="#111"/>
<path d="M 408.2 562.1 L 408.2 570 A 7.9 7.9 0 0 1 400.3 562.1 Z" fill="#111"/>
<line x1="396.7" y1="562.1" x2="419.7" y2="562.1" stroke="#777" stroke-width="0.5"/>
<line x1="408.2" y1="550.6" x2="408.2" y2="573.6" stroke="#777" stroke-width="0.5"/>
<circle cx="469" cy="562.1" r="7.9" stroke="#1e1e1e" stroke-width="1.2" fill="#fff"/>
<path d="M 469 562.1 L 469 554.2 A 7.9 7.9 0 0 1 476.9 562.1 Z" fill="#111"/>
<path d="M 469 562.1 L 469 570 A 7.9 7.9 0 0 1 461.1 562.1 Z" fill="#111"/>
<line x1="457.5" y1="562.1" x2="480.5" y2="562.1" stroke="#777" stroke-width="0.5"/>
<line x1="469" y1="550.6" x2="469" y2="573.6" stroke="#777" stroke-width="0.5"/>
<circle cx="529.8" cy="562.1" r="7.9" stroke="#1e1e1e" stroke-width="1.2" fill="#fff"/>
<path d="M 529.8 562.1 L 529.8 554.2 A 7.9 7.9 0 0 1 537.7 562.1 Z" fill="#111"/>
<path d="M 529.8 562.1 L 529.8 570 A 7.9 7.9 0 0 1 521.9 562.1 Z" fill="#111"/>
<line x1="518.3" y1="562.1" x2="541.3" y2="562.1" stroke="#777" stroke-width="0.5"/>
<line x1="529.8" y1="550.6" x2="529.8" y2="573.6" stroke="#777" stroke-width="0.5"/>
<circle cx="590.6" cy="562.1" r="7.9" stroke="#1e1e1e" stroke-width="1.2" fill="#fff"/>
<path d="M 590.6 562.1 L 590.6 554.2 A 7.9 7.9 0 0 1 598.5 562.1 Z" fill="#111"/>
<path d="M 590.6 562.1 L 590.6 570 A 7.9 7.9 0 0 1 582.7 562.1 Z" fill="#111"/>
<line x1="579.1" y1="562.1" x2="602.1" y2="562.1" stroke="#777" stroke-width="0.5"/>
<line x1="590.6" y1="550.6" x2="590.6" y2="573.6" stroke="#777" stroke-width="0.5"/>
<circle cx="651.4" cy="562.1" r="7.9" stroke="#1e1e1e" stroke-width="1.2" fill="#fff"/>
<path d="M 651.4 562.1 L 651.4 554.2 A 7.9 7.9 0 0 1 659.3 562.1 Z" fill="#111"/>
<path d="M 651.4 562.1 L 651.4 570 A 7.9 7.9 0 0 1 643.5 562.1 Z" fill="#111"/>
<line x1="639.9" y1="562.1" x2="662.9" y2="562.1" stroke="#777" stroke-width="0.5"/>
<line x1="651.4" y1="550.6" x2="651.4" y2="573.6" stroke="#777" stroke-width="0.5"/>
<circle cx="712.2" cy="562.1" r="7.9" stroke="#1e1e1e" stroke-width="1.2" fill="#fff"/>
<path d="M 712.2 562.1 L 712.2 554.2 A 7.9 7.9 0 0 1 720.1 562.1 Z" fill="#111"/>
<path d="M 712.2 562.1 L 712.2 570 A 7.9 7.9 0 0 1 704.3 562.1 Z" fill="#111"/>
<line x1="700.7" y1="562.1" x2="723.7" y2="562.1" stroke="#777" stroke-width="0.5"/>
<line x1="712.2" y1="550.6" x2="712.2" y2="573.6" stroke="#777" stroke-width="0.5"/>
<circle cx="347.4" cy="622.9" r="7.9" stroke="#1e1e1e" stroke-width="1.2" fill="#fff"/>
<line x1="335.9" y1="622.9" x2="358.9" y2="622.9" stroke="#777" stroke-width="0.5"/>
<line x1="347.4" y1="611.4" x2="347.4" y2="634.4" stroke="#777" stroke-width="0.5"/>
<rect x="339.8" y="621.6" width="15.2" height="2.6" fill="#6a6a6a" stroke="#1e1e1e" stroke-width="0.8"/>
<circle cx="408.2" cy="622.9" r="7.9" stroke="#1e1e1e" stroke-width="1.2" fill="#fff"/>
<path d="M 408.2 622.9 L 408.2 615 A 7.9 7.9 0 0 1 416.1 622.9 Z" fill="#111"/>
<path d="M 408.2 622.9 L 408.2 630.8 A 7.9 7.9 0 0 1 400.3 622.9 Z" fill="#111"/>
<line x1="396.7" y1="622.9" x2="419.7" y2="622.9" stroke="#777" stroke-width="0.5"/>
<line x1="408.2" y1="611.4" x2="408.2" y2="634.4" stroke="#777" stroke-width="0.5"/>
<circle cx="469" cy="622.9" r="7.9" stroke="#1e1e1e" stroke-width="1.2" fill="#fff"/>
<path d="M 469 622.9 L 469 615 A 7.9 7.9 0 0 1 476.9 622.9 Z" fill="#111"/>
<path d="M 469 622.9 L 469 630.8 A 7.9 7.9 0 0 1 461.1 622.9 Z" fill="#111"/>
<line x1="457.5" y1="622.9" x2="480.5" y2="622.9" stroke="#777" stroke-width="0.5"/>
<line x1="469" y1="611.4" x2="469" y2="634.4" stroke="#777" stroke-width="0.5"/>
<circle cx="529.8" cy="622.9" r="7.9" stroke="#1e1e1e" stroke-width="1.2" fill="#fff"/>
<path d="M 529.8 622.9 L 529.8 615 A 7.9 7.9 0 0 1 537.7 622.9 Z" fill="#111"/>
<path d="M 529.8 622.9 L 529.8 630.8 A 7.9 7.9 0 0 1 521.9 622.9 Z" fill="#111"/>
<line x1="518.3" y1="622.9" x2="541.3" y2="622.9" stroke="#777" stroke-width="0.5"/>
<line x1="529.8" y1="611.4" x2="529.8" y2="634.4" stroke="#777" stroke-width="0.5"/>
<circle cx="590.6" cy="622.9" r="7.9" stroke="#1e1e1e" stroke-width="1.2" fill="#fff"/>
<path d="M 590.6 622.9 L 590.6 615 A 7.9 7.9 0 0 1 598.5 622.9 Z" fill="#111"/>
<path d="M 590.6 622.9 L 590.6 630.8 A 7.9 7.9 0 0 1 582.7 622.9 Z" fill="#111"/>
<line x1="579.1" y1="622.9" x2="602.1" y2="622.9" stroke="#777" stroke-width="0.5"/>
<line x1="590.6" y1="611.4" x2="590.6" y2="634.4" stroke="#777" stroke-width="0.5"/>
<circle cx="651.4" cy="622.9" r="7.9" stroke="#1e1e1e" stroke-width="1.2" fill="#fff"/>
<path d="M 651.4 622.9 L 651.4 615 A 7.9 7.9 0 0 1 659.3 622.9 Z" fill="#111"/>
<path d="M 651.4 622.9 L 651.4 630.8 A 7.9 7.9 0 0 1 643.5 622.9 Z" fill="#111"/>
<line x1="639.9" y1="622.9" x2="662.9" y2="622.9" stroke="#777" stroke-width="0.5"/>
<line x1="651.4" y1="611.4" x2="651.4" y2="634.4" stroke="#777" stroke-width="0.5"/>
<circle cx="712.2" cy="622.9" r="7.9" stroke="#1e1e1e" stroke-width="1.2" fill="#fff"/>
<line x1="700.7" y1="622.9" x2="723.7" y2="622.9" stroke="#777" stroke-width="0.5"/>
<line x1="712.2" y1="611.4" x2="712.2" y2="634.4" stroke="#777" stroke-width="0.5"/>
<rect x="704.6" y="621.6" width="15.2" height="2.6" fill="#6a6a6a" stroke="#1e1e1e" stroke-width="0.8"/>
<circle cx="377.8" cy="258.1" r="7.9" stroke="#1e1e1e" stroke-width="1.2" fill="#fff"/>
<line x1="366.3" y1="258.1" x2="389.3" y2="258.1" stroke="#777" stroke-width="0.5"/>
<line x1="377.8" y1="246.6" x2="377.8" y2="269.6" stroke="#777" stroke-width="0.5"/>
<rect x="370.2" y="256.8" width="15.2" height="2.6" fill="#6a6a6a" stroke="#1e1e1e" stroke-width="0.8"/>
<circle cx="438.6" cy="258.1" r="7.9" stroke="#1e1e1e" stroke-width="1.2" fill="#fff"/>
<line x1="427.1" y1="258.1" x2="450.1" y2="258.1" stroke="#777" stroke-width="0.5"/>
<line x1="438.6" y1="246.6" x2="438.6" y2="269.6" stroke="#777" stroke-width="0.5"/>
<rect x="431" y="256.8" width="15.2" height="2.6" fill="#6a6a6a" stroke="#1e1e1e" stroke-width="0.8"/>
<circle cx="499.4" cy="258.1" r="7.9" stroke="#1e1e1e" stroke-width="1.2" fill="#fff"/>
<line x1="487.9" y1="258.1" x2="510.9" y2="258.1" stroke="#777" stroke-width="0.5"/>
<line x1="499.4" y1="246.6" x2="499.4" y2="269.6" stroke="#777" stroke-width="0.5"/>
<rect x="491.8" y="256.8" width="15.2" height="2.6" fill="#6a6a6a" stroke="#1e1e1e" stroke-width="0.8"/>
<circle cx="560.2" cy="258.1" r="7.9" stroke="#1e1e1e" stroke-width="1.2" fill="#fff"/>
<line x1="548.7" y1="258.1" x2="571.7" y2="258.1" stroke="#777" stroke-width="0.5"/>
<line x1="560.2" y1="246.6" x2="560.2" y2="269.6" stroke="#777" stroke-width="0.5"/>
<rect x="552.6" y="256.8" width="15.2" height="2.6" fill="#6a6a6a" stroke="#1e1e1e" stroke-width="0.8"/>
<circle cx="621" cy="258.1" r="7.9" stroke="#1e1e1e" stroke-width="1.2" fill="#fff"/>
<line x1="609.5" y1="258.1" x2="632.5" y2="258.1" stroke="#777" stroke-width="0.5"/>
<line x1="621" y1="246.6" x2="621" y2="269.6" stroke="#777" stroke-width="0.5"/>
<rect x="613.4" y="256.8" width="15.2" height="2.6" fill="#6a6a6a" stroke="#1e1e1e" stroke-width="0.8"/>
<circle cx="681.8" cy="258.1" r="7.9" stroke="#1e1e1e" stroke-width="1.2" fill="#fff"/>
<line x1="670.3" y1="258.1" x2="693.3" y2="258.1" stroke="#777" stroke-width="0.5"/>
<line x1="681.8" y1="246.6" x2="681.8" y2="269.6" stroke="#777" stroke-width="0.5"/>
<rect x="674.2" y="256.8" width="15.2" height="2.6" fill="#6a6a6a" stroke="#1e1e1e" stroke-width="0.8"/>
<circle cx="317" cy="318.9" r="7.9" stroke="#1e1e1e" stroke-width="1.2" fill="#fff"/>
<line x1="305.5" y1="318.9" x2="328.5" y2="318.9" stroke="#777" stroke-width="0.5"/>
<line x1="317" y1="307.4" x2="317" y2="330.4" stroke="#777" stroke-width="0.5"/>
<rect x="309.4" y="317.6" width="15.2" height="2.6" fill="#6a6a6a" stroke="#1e1e1e" stroke-width="0.8"/>
<circle cx="377.8" cy="318.9" r="7.9" stroke="#1e1e1e" stroke-width="1.2" fill="#fff"/>
<line x1="366.3" y1="318.9" x2="389.3" y2="318.9" stroke="#777" stroke-width="0.5"/>
<line x1="377.8" y1="307.4" x2="377.8" y2="330.4" stroke="#777" stroke-width="0.5"/>
<rect x="370.2" y="317.6" width="15.2" height="2.6" fill="#6a6a6a" stroke="#1e1e1e" stroke-width="0.8"/>
<circle cx="438.6" cy="318.9" r="7.9" stroke="#1e1e1e" stroke-width="1.2" fill="#fff"/>
<line x1="427.1" y1="318.9" x2="450.1" y2="318.9" stroke="#777" stroke-width="0.5"/>
<line x1="438.6" y1="307.4" x2="438.6" y2="330.4" stroke="#777" stroke-width="0.5"/>
<rect x="431" y="317.6" width="15.2" height="2.6" fill="#6a6a6a" stroke="#1e1e1e" stroke-width="0.8"/>
<circle cx="499.4" cy="318.9" r="7.9" stroke="#1e1e1e" stroke-width="1.2" fill="#fff"/>
<line x1="487.9" y1="318.9" x2="510.9" y2="318.9" stroke="#777" stroke-width="0.5"/>
<line x1="499.4" y1="307.4" x2="499.4" y2="330.4" stroke="#777" stroke-width="0.5"/>
<rect x="491.8" y="317.6" width="15.2" height="2.6" fill="#6a6a6a" stroke="#1e1e1e" stroke-width="0.8"/>
<circle cx="560.2" cy="318.9" r="7.9" stroke="#1e1e1e" stroke-width="1.2" fill="#fff"/>
<line x1="548.7" y1="318.9" x2="571.7" y2="318.9" stroke="#777" stroke-width="0.5"/>
<line x1="560.2" y1="307.4" x2="560.2" y2="330.4" stroke="#777" stroke-width="0.5"/>
<rect x="552.6" y="317.6" width="15.2" height="2.6" fill="#6a6a6a" stroke="#1e1e1e" stroke-width="0.8"/>
<circle cx="621" cy="318.9" r="7.9" stroke="#1e1e1e" stroke-width="1.2" fill="#fff"/>
<line x1="609.5" y1="318.9" x2="632.5" y2="318.9" stroke="#777" stroke-width="0.5"/>
<line x1="621" y1="307.4" x2="621" y2="330.4" stroke="#777" stroke-width="0.5"/>
<rect x="613.4" y="317.6" width="15.2" height="2.6" fill="#6a6a6a" stroke="#1e1e1e" stroke-width="0.8"/>
<circle cx="681.8" cy="318.9" r="7.9" stroke="#1e1e1e" stroke-width="1.2" fill="#fff"/>
<line x1="670.3" y1="318.9" x2="693.3" y2="318.9" stroke="#777" stroke-width="0.5"/>
<line x1="681.8" y1="307.4" x2="681.8" y2="330.4" stroke="#777" stroke-width="0.5"/>
<rect x="674.2" y="317.6" width="15.2" height="2.6" fill="#6a6a6a" stroke="#1e1e1e" stroke-width="0.8"/>
<circle cx="742.6" cy="318.9" r="7.9" stroke="#1e1e1e" stroke-width="1.2" fill="#fff"/>
<line x1="731.1" y1="318.9" x2="754.1" y2="318.9" stroke="#777" stroke-width="0.5"/>
<line x1="742.6" y1="307.4" x2="742.6" y2="330.4" stroke="#777" stroke-width="0.5"/>
<rect x="735" y="317.6" width="15.2" height="2.6" fill="#6a6a6a" stroke="#1e1e1e" stroke-width="0.8"/>
<circle cx="317" cy="379.7" r="7.9" stroke="#1e1e1e" stroke-width="1.2" fill="#fff"/>
<line x1="305.5" y1="379.7" x2="328.5" y2="379.7" stroke="#777" stroke-width="0.5"/>
<line x1="317" y1="368.2" x2="317" y2="391.2" stroke="#777" stroke-width="0.5"/>
<rect x="309.4" y="378.4" width="15.2" height="2.6" fill="#6a6a6a" stroke="#1e1e1e" stroke-width="0.8"/>
<circle cx="377.8" cy="379.7" r="7.9" stroke="#1e1e1e" stroke-width="1.2" fill="#fff"/>
<path d="M 377.8 379.7 L 377.8 371.8 A 7.9 7.9 0 0 1 385.7 379.7 Z" fill="#111"/>
<path d="M 377.8 379.7 L 377.8 387.6 A 7.9 7.9 0 0 1 369.9 379.7 Z" fill="#111"/>
<line x1="366.3" y1="379.7" x2="389.3" y2="379.7" stroke="#777" stroke-width="0.5"/>
<line x1="377.8" y1="368.2" x2="377.8" y2="391.2" stroke="#777" stroke-width="0.5"/>
<circle cx="438.6" cy="379.7" r="7.9" stroke="#1e1e1e" stroke-width="1.2" fill="#fff"/>
<line x1="427.1" y1="379.7" x2="450.1" y2="379.7" stroke="#777" stroke-width="0.5"/>
<line x1="438.6" y1="368.2" x2="438.6" y2="391.2" stroke="#777" stroke-width="0.5"/>
<rect x="431" y="378.4" width="15.2" height="2.6" fill="#6a6a6a" stroke="#1e1e1e" stroke-width="0.8"/>
<circle cx="499.4" cy="379.7" r="7.9" stroke="#1e1e1e" stroke-width="1.2" fill="#fff"/>
<line x1="487.9" y1="379.7" x2="510.9" y2="379.7" stroke="#777" stroke-width="0.5"/>
<line x1="499.4" y1="368.2" x2="499.4" y2="391.2" stroke="#777" stroke-width="0.5"/>
<rect x="491.8" y="378.4" width="15.2" height="2.6" fill="#6a6a6a" stroke="#1e1e1e" stroke-width="0.8"/>
<circle cx="560.2" cy="379.7" r="7.9" stroke="#1e1e1e" stroke-width="1.2" fill="#fff"/>
<line x1="548.7" y1="379.7" x2="571.7" y2="379.7" stroke="#777" stroke-width="0.5"/>
<line x1="560.2" y1="368.2" x2="560.2" y2="391.2" stroke="#777" stroke-width="0.5"/>
<rect x="552.6" y="378.4" width="15.2" height="2.6" fill="#6a6a6a" stroke="#1e1e1e" stroke-width="0.8"/>
<circle cx="621" cy="379.7" r="7.9" stroke="#1e1e1e" stroke-width="1.2" fill="#fff"/>
<line x1="609.5" y1="379.7" x2="632.5" y2="379.7" stroke="#777" stroke-width="0.5"/>
<line x1="621" y1="368.2" x2="621" y2="391.2" stroke="#777" stroke-width="0.5"/>
<rect x="613.4" y="378.4" width="15.2" height="2.6" fill="#6a6a6a" stroke="#1e1e1e" stroke-width="0.8"/>
<circle cx="681.8" cy="379.7" r="7.9" stroke="#1e1e1e" stroke-width="1.2" fill="#fff"/>
<line x1="670.3" y1="379.7" x2="693.3" y2="379.7" stroke="#777" stroke-width="0.5"/>
<line x1="681.8" y1="368.2" x2="681.8" y2="391.2" stroke="#777" stroke-width="0.5"/>
<rect x="674.2" y="378.4" width="15.2" height="2.6" fill="#6a6a6a" stroke="#1e1e1e" stroke-width="0.8"/>
<circle cx="742.6" cy="379.7" r="7.9" stroke="#1e1e1e" stroke-width="1.2" fill="#fff"/>
<line x1="731.1" y1="379.7" x2="754.1" y2="379.7" stroke="#777" stroke-width="0.5"/>
<line x1="742.6" y1="368.2" x2="742.6" y2="391.2" stroke="#777" stroke-width="0.5"/>
<rect x="735" y="378.4" width="15.2" height="2.6" fill="#6a6a6a" stroke="#1e1e1e" stroke-width="0.8"/>
<circle cx="317" cy="440.5" r="12.3" stroke="#222" stroke-width="1.1" fill="#fff"/>
<circle cx="317" cy="440.5" r="7.8" stroke="#333" stroke-width="0.8" fill="none"/>
<line x1="302" y1="440.5" x2="332" y2="440.5" stroke="#777" stroke-width="0.5"/>
<line x1="317" y1="425.5" x2="317" y2="455.5" stroke="#777" stroke-width="0.5"/>
<circle cx="377.8" cy="440.5" r="7.9" stroke="#1e1e1e" stroke-width="1.2" fill="#fff"/>
<line x1="366.3" y1="440.5" x2="389.3" y2="440.5" stroke="#777" stroke-width="0.5"/>
<line x1="377.8" y1="429" x2="377.8" y2="452" stroke="#777" stroke-width="0.5"/>
<rect x="370.2" y="439.2" width="15.2" height="2.6" fill="#6a6a6a" stroke="#1e1e1e" stroke-width="0.8"/>
<circle cx="438.6" cy="440.5" r="7.9" stroke="#1e1e1e" stroke-width="1.2" fill="#fff"/>
<line x1="427.1" y1="440.5" x2="450.1" y2="440.5" stroke="#777" stroke-width="0.5"/>
<line x1="438.6" y1="429" x2="438.6" y2="452" stroke="#777" stroke-width="0.5"/>
<rect x="431" y="439.2" width="15.2" height="2.6" fill="#6a6a6a" stroke="#1e1e1e" stroke-width="0.8"/>
<circle cx="499.4" cy="440.5" r="7.9" stroke="#1e1e1e" stroke-width="1.2" fill="#fff"/>
<line x1="487.9" y1="440.5" x2="510.9" y2="440.5" stroke="#777" stroke-width="0.5"/>
<line x1="499.4" y1="429" x2="499.4" y2="452" stroke="#777" stroke-width="0.5"/>
<rect x="491.8" y="439.2" width="15.2" height="2.6" fill="#6a6a6a" stroke="#1e1e1e" stroke-width="0.8"/>
<circle cx="560.2" cy="440.5" r="7.9" stroke="#1e1e1e" stroke-width="1.2" fill="#fff"/>
<line x1="548.7" y1="440.5" x2="571.7" y2="440.5" stroke="#777" stroke-width="0.5"/>
<line x1="560.2" y1="429" x2="560.2" y2="452" stroke="#777" stroke-width="0.5"/>
<rect x="552.6" y="439.2" width="15.2" height="2.6" fill="#6a6a6a" stroke="#1e1e1e" stroke-width="0.8"/>
<circle cx="621" cy="440.5" r="7.9" stroke="#1e1e1e" stroke-width="1.2" fill="#fff"/>
<line x1="609.5" y1="440.5" x2="632.5" y2="440.5" stroke="#777" stroke-width="0.5"/>
<line x1="621" y1="429" x2="621" y2="452" stroke="#777" stroke-width="0.5"/>
<rect x="613.4" y="439.2" width="15.2" height="2.6" fill="#6a6a6a" stroke="#1e1e1e" stroke-width="0.8"/>
<circle cx="681.8" cy="440.5" r="7.9" stroke="#1e1e1e" stroke-width="1.2" fill="#fff"/>
<line x1="670.3" y1="440.5" x2="693.3" y2="440.5" stroke="#777" stroke-width="0.5"/>
<line x1="681.8" y1="429" x2="681.8" y2="452" stroke="#777" stroke-width="0.5"/>
<rect x="674.2" y="439.2" width="15.2" height="2.6" fill="#6a6a6a" stroke="#1e1e1e" stroke-width="0.8"/>
<circle cx="742.6" cy="440.5" r="12.3" stroke="#222" stroke-width="1.1" fill="#fff"/>
<circle cx="742.6" cy="440.5" r="7.8" stroke="#333" stroke-width="0.8" fill="none"/>
<line x1="727.6" y1="440.5" x2="757.6" y2="440.5" stroke="#777" stroke-width="0.5"/>
<line x1="742.6" y1="425.5" x2="742.6" y2="455.5" stroke="#777" stroke-width="0.5"/>
<circle cx="317" cy="501.3" r="7.9" stroke="#1e1e1e" stroke-width="1.2" fill="#fff"/>
<line x1="305.5" y1="501.3" x2="328.5" y2="501.3" stroke="#777" stroke-width="0.5"/>
<line x1="317" y1="489.8" x2="317" y2="512.8" stroke="#777" stroke-width="0.5"/>
<rect x="309.4" y="500" width="15.2" height="2.6" fill="#6a6a6a" stroke="#1e1e1e" stroke-width="0.8"/>
<circle cx="377.8" cy="501.3" r="7.9" stroke="#1e1e1e" stroke-width="1.2" fill="#fff"/>
<line x1="366.3" y1="501.3" x2="389.3" y2="501.3" stroke="#777" stroke-width="0.5"/>
<line x1="377.8" y1="489.8" x2="377.8" y2="512.8" stroke="#777" stroke-width="0.5"/>
<rect x="370.2" y="500" width="15.2" height="2.6" fill="#6a6a6a" stroke="#1e1e1e" stroke-width="0.8"/>
<circle cx="438.6" cy="501.3" r="7.9" stroke="#1e1e1e" stroke-width="1.2" fill="#fff"/>
<line x1="427.1" y1="501.3" x2="450.1" y2="501.3" stroke="#777" stroke-width="0.5"/>
<line x1="438.6" y1="489.8" x2="438.6" y2="512.8" stroke="#777" stroke-width="0.5"/>
<rect x="431" y="500" width="15.2" height="2.6" fill="#6a6a6a" stroke="#1e1e1e" stroke-width="0.8"/>
<circle cx="499.4" cy="501.3" r="7.9" stroke="#1e1e1e" stroke-width="1.2" fill="#fff"/>
<line x1="487.9" y1="501.3" x2="510.9" y2="501.3" stroke="#777" stroke-width="0.5"/>
<line x1="499.4" y1="489.8" x2="499.4" y2="512.8" stroke="#777" stroke-width="0.5"/>
<rect x="491.8" y="500" width="15.2" height="2.6" fill="#6a6a6a" stroke="#1e1e1e" stroke-width="0.8"/>
<circle cx="560.2" cy="501.3" r="7.9" stroke="#1e1e1e" stroke-width="1.2" fill="#fff"/>
<line x1="548.7" y1="501.3" x2="571.7" y2="501.3" stroke="#777" stroke-width="0.5"/>
<line x1="560.2" y1="489.8" x2="560.2" y2="512.8" stroke="#777" stroke-width="0.5"/>
<rect x="552.6" y="500" width="15.2" height="2.6" fill="#6a6a6a" stroke="#1e1e1e" stroke-width="0.8"/>
<circle cx="621" cy="501.3" r="7.9" stroke="#1e1e1e" stroke-width="1.2" fill="#fff"/>
<line x1="609.5" y1="501.3" x2="632.5" y2="501.3" stroke="#777" stroke-width="0.5"/>
<line x1="621" y1="489.8" x2="621" y2="512.8" stroke="#777" stroke-width="0.5"/>
<rect x="613.4" y="500" width="15.2" height="2.6" fill="#6a6a6a" stroke="#1e1e1e" stroke-width="0.8"/>
<circle cx="681.8" cy="501.3" r="7.9" stroke="#1e1e1e" stroke-width="1.2" fill="#fff"/>
<line x1="670.3" y1="501.3" x2="693.3" y2="501.3" stroke="#777" stroke-width="0.5"/>
<line x1="681.8" y1="489.8" x2="681.8" y2="512.8" stroke="#777" stroke-width="0.5"/>
<rect x="674.2" y="500" width="15.2" height="2.6" fill="#6a6a6a" stroke="#1e1e1e" stroke-width="0.8"/>
<circle cx="742.6" cy="501.3" r="7.9" stroke="#1e1e1e" stroke-width="1.2" fill="#fff"/>
<line x1="731.1" y1="501.3" x2="754.1" y2="501.3" stroke="#777" stroke-width="0.5"/>
<line x1="742.6" y1="489.8" x2="742.6" y2="512.8" stroke="#777" stroke-width="0.5"/>
<rect x="735" y="500" width="15.2" height="2.6" fill="#6a6a6a" stroke="#1e1e1e" stroke-width="0.8"/>
<circle cx="317" cy="562.1" r="7.9" stroke="#1e1e1e" stroke-width="1.2" fill="#fff"/>
<line x1="305.5" y1="562.1" x2="328.5" y2="562.1" stroke="#777" stroke-width="0.5"/>
<line x1="317" y1="550.6" x2="317" y2="573.6" stroke="#777" stroke-width="0.5"/>
<rect x="309.4" y="560.8" width="15.2" height="2.6" fill="#6a6a6a" stroke="#1e1e1e" stroke-width="0.8"/>
<circle cx="377.8" cy="562.1" r="7.9" stroke="#1e1e1e" stroke-width="1.2" fill="#fff"/>
<line x1="366.3" y1="562.1" x2="389.3" y2="562.1" stroke="#777" stroke-width="0.5"/>
<line x1="377.8" y1="550.6" x2="377.8" y2="573.6" stroke="#777" stroke-width="0.5"/>
<rect x="370.2" y="560.8" width="15.2" height="2.6" fill="#6a6a6a" stroke="#1e1e1e" stroke-width="0.8"/>
<circle cx="438.6" cy="562.1" r="7.9" stroke="#1e1e1e" stroke-width="1.2" fill="#fff"/>
<line x1="427.1" y1="562.1" x2="450.1" y2="562.1" stroke="#777" stroke-width="0.5"/>
<line x1="438.6" y1="550.6" x2="438.6" y2="573.6" stroke="#777" stroke-width="0.5"/>
<rect x="431" y="560.8" width="15.2" height="2.6" fill="#6a6a6a" stroke="#1e1e1e" stroke-width="0.8"/>
<circle cx="499.4" cy="562.1" r="7.9" stroke="#1e1e1e" stroke-width="1.2" fill="#fff"/>
<line x1="487.9" y1="562.1" x2="510.9" y2="562.1" stroke="#777" stroke-width="0.5"/>
<line x1="499.4" y1="550.6" x2="499.4" y2="573.6" stroke="#777" stroke-width="0.5"/>
<rect x="491.8" y="560.8" width="15.2" height="2.6" fill="#6a6a6a" stroke="#1e1e1e" stroke-width="0.8"/>
<circle cx="560.2" cy="562.1" r="7.9" stroke="#1e1e1e" stroke-width="1.2" fill="#fff"/>
<line x1="548.7" y1="562.1" x2="571.7" y2="562.1" stroke="#777" stroke-width="0.5"/>
<line x1="560.2" y1="550.6" x2="560.2" y2="573.6" stroke="#777" stroke-width="0.5"/>
<rect x="552.6" y="560.8" width="15.2" height="2.6" fill="#6a6a6a" stroke="#1e1e1e" stroke-width="0.8"/>
<circle cx="621" cy="562.1" r="7.9" stroke="#1e1e1e" stroke-width="1.2" fill="#fff"/>
<line x1="609.5" y1="562.1" x2="632.5" y2="562.1" stroke="#777" stroke-width="0.5"/>
<line x1="621" y1="550.6" x2="621" y2="573.6" stroke="#777" stroke-width="0.5"/>
<rect x="613.4" y="560.8" width="15.2" height="2.6" fill="#6a6a6a" stroke="#1e1e1e" stroke-width="0.8"/>
<circle cx="681.8" cy="562.1" r="7.9" stroke="#1e1e1e" stroke-width="1.2" fill="#fff"/>
<line x1="670.3" y1="562.1" x2="693.3" y2="562.1" stroke="#777" stroke-width="0.5"/>
<line x1="681.8" y1="550.6" x2="681.8" y2="573.6" stroke="#777" stroke-width="0.5"/>
<rect x="674.2" y="560.8" width="15.2" height="2.6" fill="#6a6a6a" stroke="#1e1e1e" stroke-width="0.8"/>
<circle cx="742.6" cy="562.1" r="7.9" stroke="#1e1e1e" stroke-width="1.2" fill="#fff"/>
<line x1="731.1" y1="562.1" x2="754.1" y2="562.1" stroke="#777" stroke-width="0.5"/>
<line x1="742.6" y1="550.6" x2="742.6" y2="573.6" stroke="#777" stroke-width="0.5"/>
<rect x="735" y="560.8" width="15.2" height="2.6" fill="#6a6a6a" stroke="#1e1e1e" stroke-width="0.8"/>
<circle cx="377.8" cy="622.9" r="7.9" stroke="#1e1e1e" stroke-width="1.2" fill="#fff"/>
<line x1="366.3" y1="622.9" x2="389.3" y2="622.9" stroke="#777" stroke-width="0.5"/>
<line x1="377.8" y1="611.4" x2="377.8" y2="634.4" stroke="#777" stroke-width="0.5"/>
<rect x="370.2" y="621.6" width="15.2" height="2.6" fill="#6a6a6a" stroke="#1e1e1e" stroke-width="0.8"/>
<circle cx="438.6" cy="622.9" r="7.9" stroke="#1e1e1e" stroke-width="1.2" fill="#fff"/>
<line x1="427.1" y1="622.9" x2="450.1" y2="622.9" stroke="#777" stroke-width="0.5"/>
<line x1="438.6" y1="611.4" x2="438.6" y2="634.4" stroke="#777" stroke-width="0.5"/>
<rect x="431" y="621.6" width="15.2" height="2.6" fill="#6a6a6a" stroke="#1e1e1e" stroke-width="0.8"/>
<circle cx="499.4" cy="622.9" r="7.9" stroke="#1e1e1e" stroke-width="1.2" fill="#fff"/>
<line x1="487.9" y1="622.9" x2="510.9" y2="622.9" stroke="#777" stroke-width="0.5"/>
<line x1="499.4" y1="611.4" x2="499.4" y2="634.4" stroke="#777" stroke-width="0.5"/>
<rect x="491.8" y="621.6" width="15.2" height="2.6" fill="#6a6a6a" stroke="#1e1e1e" stroke-width="0.8"/>
<circle cx="560.2" cy="622.9" r="7.9" stroke="#1e1e1e" stroke-width="1.2" fill="#fff"/>
<line x1="548.7" y1="622.9" x2="571.7" y2="622.9" stroke="#777" stroke-width="0.5"/>
<line x1="560.2" y1="611.4" x2="560.2" y2="634.4" stroke="#777" stroke-width="0.5"/>
<rect x="552.6" y="621.6" width="15.2" height="2.6" fill="#6a6a6a" stroke="#1e1e1e" stroke-width="0.8"/>
<circle cx="621" cy="622.9" r="7.9" stroke="#1e1e1e" stroke-width="1.2" fill="#fff"/>
<line x1="609.5" y1="622.9" x2="632.5" y2="622.9" stroke="#777" stroke-width="0.5"/>
<line x1="621" y1="611.4" x2="621" y2="634.4" stroke="#777" stroke-width="0.5"/>
<rect x="613.4" y="621.6" width="15.2" height="2.6" fill="#6a6a6a" stroke="#1e1e1e" stroke-width="0.8"/>
<circle cx="681.8" cy="622.9" r="7.9" stroke="#1e1e1e" stroke-width="1.2" fill="#fff"/>
<line x1="670.3" y1="622.9" x2="693.3" y2="622.9" stroke="#777" stroke-width="0.5"/>
<line x1="681.8" y1="611.4" x2="681.8" y2="634.4" stroke="#777" stroke-width="0.5"/>
<rect x="674.2" y="621.6" width="15.2" height="2.6" fill="#6a6a6a" stroke="#1e1e1e" stroke-width="0.8"/>
<circle cx="408.2" cy="227.7" r="7.9" stroke="#1e1e1e" stroke-width="1.2" fill="#fff"/>
<line x1="396.7" y1="227.7" x2="419.7" y2="227.7" stroke="#777" stroke-width="0.5"/>
<line x1="408.2" y1="216.2" x2="408.2" y2="239.2" stroke="#777" stroke-width="0.5"/>
<rect x="400.6" y="226.4" width="15.2" height="2.6" fill="#6a6a6a" stroke="#1e1e1e" stroke-width="0.8"/>
<circle cx="469" cy="227.7" r="7.9" stroke="#1e1e1e" stroke-width="1.2" fill="#fff"/>
<line x1="457.5" y1="227.7" x2="480.5" y2="227.7" stroke="#777" stroke-width="0.5"/>
<line x1="469" y1="216.2" x2="469" y2="239.2" stroke="#777" stroke-width="0.5"/>
<rect x="461.4" y="226.4" width="15.2" height="2.6" fill="#6a6a6a" stroke="#1e1e1e" stroke-width="0.8"/>
<circle cx="529.8" cy="227.7" r="12.3" stroke="#222" stroke-width="1.1" fill="#fff"/>
<circle cx="529.8" cy="227.7" r="7.8" stroke="#333" stroke-width="0.8" fill="none"/>
<line x1="514.8" y1="227.7" x2="544.8" y2="227.7" stroke="#777" stroke-width="0.5"/>
<line x1="529.8" y1="212.7" x2="529.8" y2="242.7" stroke="#777" stroke-width="0.5"/>
<circle cx="590.6" cy="227.7" r="7.9" stroke="#1e1e1e" stroke-width="1.2" fill="#fff"/>
<line x1="579.1" y1="227.7" x2="602.1" y2="227.7" stroke="#777" stroke-width="0.5"/>
<line x1="590.6" y1="216.2" x2="590.6" y2="239.2" stroke="#777" stroke-width="0.5"/>
<rect x="583" y="226.4" width="15.2" height="2.6" fill="#6a6a6a" stroke="#1e1e1e" stroke-width="0.8"/>
<circle cx="651.4" cy="227.7" r="7.9" stroke="#1e1e1e" stroke-width="1.2" fill="#fff"/>
<line x1="639.9" y1="227.7" x2="662.9" y2="227.7" stroke="#777" stroke-width="0.5"/>
<line x1="651.4" y1="216.2" x2="651.4" y2="239.2" stroke="#777" stroke-width="0.5"/>
<rect x="643.8" y="226.4" width="15.2" height="2.6" fill="#6a6a6a" stroke="#1e1e1e" stroke-width="0.8"/>
<circle cx="347.4" cy="288.5" r="7.9" stroke="#1e1e1e" stroke-width="1.2" fill="#fff"/>
<line x1="335.9" y1="288.5" x2="358.9" y2="288.5" stroke="#777" stroke-width="0.5"/>
<line x1="347.4" y1="277" x2="347.4" y2="300" stroke="#777" stroke-width="0.5"/>
<rect x="339.8" y="287.2" width="15.2" height="2.6" fill="#6a6a6a" stroke="#1e1e1e" stroke-width="0.8"/>
<circle cx="408.2" cy="288.5" r="7.9" stroke="#1e1e1e" stroke-width="1.2" fill="#fff"/>
<line x1="396.7" y1="288.5" x2="419.7" y2="288.5" stroke="#777" stroke-width="0.5"/>
<line x1="408.2" y1="277" x2="408.2" y2="300" stroke="#777" stroke-width="0.5"/>
<rect x="400.6" y="287.2" width="15.2" height="2.6" fill="#6a6a6a" stroke="#1e1e1e" stroke-width="0.8"/>
<circle cx="469" cy="288.5" r="7.9" stroke="#1e1e1e" stroke-width="1.2" fill="#fff"/>
<line x1="457.5" y1="288.5" x2="480.5" y2="288.5" stroke="#777" stroke-width="0.5"/>
<line x1="469" y1="277" x2="469" y2="300" stroke="#777" stroke-width="0.5"/>
<rect x="461.4" y="287.2" width="15.2" height="2.6" fill="#6a6a6a" stroke="#1e1e1e" stroke-width="0.8"/>
<circle cx="529.8" cy="288.5" r="7.9" stroke="#1e1e1e" stroke-width="1.2" fill="#fff"/>
<line x1="518.3" y1="288.5" x2="541.3" y2="288.5" stroke="#777" stroke-width="0.5"/>
<line x1="529.8" y1="277" x2="529.8" y2="300" stroke="#777" stroke-width="0.5"/>
<rect x="522.2" y="287.2" width="15.2" height="2.6" fill="#6a6a6a" stroke="#1e1e1e" stroke-width="0.8"/>
<circle cx="590.6" cy="288.5" r="7.9" stroke="#1e1e1e" stroke-width="1.2" fill="#fff"/>
<line x1="579.1" y1="288.5" x2="602.1" y2="288.5" stroke="#777" stroke-width="0.5"/>
<line x1="590.6" y1="277" x2="590.6" y2="300" stroke="#777" stroke-width="0.5"/>
<rect x="583" y="287.2" width="15.2" height="2.6" fill="#6a6a6a" stroke="#1e1e1e" stroke-width="0.8"/>
<circle cx="651.4" cy="288.5" r="7.9" stroke="#1e1e1e" stroke-width="1.2" fill="#fff"/>
<line x1="639.9" y1="288.5" x2="662.9" y2="288.5" stroke="#777" stroke-width="0.5"/>
<line x1="651.4" y1="277" x2="651.4" y2="300" stroke="#777" stroke-width="0.5"/>
<rect x="643.8" y="287.2" width="15.2" height="2.6" fill="#6a6a6a" stroke="#1e1e1e" stroke-width="0.8"/>
<circle cx="712.2" cy="288.5" r="7.9" stroke="#1e1e1e" stroke-width="1.2" fill="#fff"/>
<line x1="700.7" y1="288.5" x2="723.7" y2="288.5" stroke="#777" stroke-width="0.5"/>
<line x1="712.2" y1="277" x2="712.2" y2="300" stroke="#777" stroke-width="0.5"/>
<rect x="704.6" y="287.2" width="15.2" height="2.6" fill="#6a6a6a" stroke="#1e1e1e" stroke-width="0.8"/>
<circle cx="347.4" cy="349.3" r="7.9" stroke="#1e1e1e" stroke-width="1.2" fill="#fff"/>
<line x1="335.9" y1="349.3" x2="358.9" y2="349.3" stroke="#777" stroke-width="0.5"/>
<line x1="347.4" y1="337.8" x2="347.4" y2="360.8" stroke="#777" stroke-width="0.5"/>
<rect x="339.8" y="348" width="15.2" height="2.6" fill="#6a6a6a" stroke="#1e1e1e" stroke-width="0.8"/>
<circle cx="408.2" cy="349.3" r="7.9" stroke="#1e1e1e" stroke-width="1.2" fill="#fff"/>
<line x1="396.7" y1="349.3" x2="419.7" y2="349.3" stroke="#777" stroke-width="0.5"/>
<line x1="408.2" y1="337.8" x2="408.2" y2="360.8" stroke="#777" stroke-width="0.5"/>
<rect x="400.6" y="348" width="15.2" height="2.6" fill="#6a6a6a" stroke="#1e1e1e" stroke-width="0.8"/>
<circle cx="469" cy="349.3" r="7.9" stroke="#1e1e1e" stroke-width="1.2" fill="#fff"/>
<line x1="457.5" y1="349.3" x2="480.5" y2="349.3" stroke="#777" stroke-width="0.5"/>
<line x1="469" y1="337.8" x2="469" y2="360.8" stroke="#777" stroke-width="0.5"/>
<rect x="461.4" y="348" width="15.2" height="2.6" fill="#6a6a6a" stroke="#1e1e1e" stroke-width="0.8"/>
<circle cx="529.8" cy="349.3" r="7.9" stroke="#1e1e1e" stroke-width="1.2" fill="#fff"/>
<line x1="518.3" y1="349.3" x2="541.3" y2="349.3" stroke="#777" stroke-width="0.5"/>
<line x1="529.8" y1="337.8" x2="529.8" y2="360.8" stroke="#777" stroke-width="0.5"/>
<rect x="522.2" y="348" width="15.2" height="2.6" fill="#6a6a6a" stroke="#1e1e1e" stroke-width="0.8"/>
<circle cx="590.6" cy="349.3" r="7.9" stroke="#1e1e1e" stroke-width="1.2" fill="#fff"/>
<line x1="579.1" y1="349.3" x2="602.1" y2="349.3" stroke="#777" stroke-width="0.5"/>
<line x1="590.6" y1="337.8" x2="590.6" y2="360.8" stroke="#777" stroke-width="0.5"/>
<rect x="583" y="348" width="15.2" height="2.6" fill="#6a6a6a" stroke="#1e1e1e" stroke-width="0.8"/>
<circle cx="651.4" cy="349.3" r="7.9" stroke="#1e1e1e" stroke-width="1.2" fill="#fff"/>
<line x1="639.9" y1="349.3" x2="662.9" y2="349.3" stroke="#777" stroke-width="0.5"/>
<line x1="651.4" y1="337.8" x2="651.4" y2="360.8" stroke="#777" stroke-width="0.5"/>
<rect x="643.8" y="348" width="15.2" height="2.6" fill="#6a6a6a" stroke="#1e1e1e" stroke-width="0.8"/>
<circle cx="712.2" cy="349.3" r="7.9" stroke="#1e1e1e" stroke-width="1.2" fill="#fff"/>
<line x1="700.7" y1="349.3" x2="723.7" y2="349.3" stroke="#777" stroke-width="0.5"/>
<line x1="712.2" y1="337.8" x2="712.2" y2="360.8" stroke="#777" stroke-width="0.5"/>
<rect x="704.6" y="348" width="15.2" height="2.6" fill="#6a6a6a" stroke="#1e1e1e" stroke-width="0.8"/>
<circle cx="347.4" cy="410.1" r="7.9" stroke="#1e1e1e" stroke-width="1.2" fill="#fff"/>
<line x1="335.9" y1="410.1" x2="358.9" y2="410.1" stroke="#777" stroke-width="0.5"/>
<line x1="347.4" y1="398.6" x2="347.4" y2="421.6" stroke="#777" stroke-width="0.5"/>
<rect x="339.8" y="408.8" width="15.2" height="2.6" fill="#6a6a6a" stroke="#1e1e1e" stroke-width="0.8"/>
<circle cx="408.2" cy="410.1" r="7.9" stroke="#1e1e1e" stroke-width="1.2" fill="#fff"/>
<line x1="396.7" y1="410.1" x2="419.7" y2="410.1" stroke="#777" stroke-width="0.5"/>
<line x1="408.2" y1="398.6" x2="408.2" y2="421.6" stroke="#777" stroke-width="0.5"/>
<rect x="400.6" y="408.8" width="15.2" height="2.6" fill="#6a6a6a" stroke="#1e1e1e" stroke-width="0.8"/>
<circle cx="469" cy="410.1" r="7.9" stroke="#1e1e1e" stroke-width="1.2" fill="#fff"/>
<line x1="457.5" y1="410.1" x2="480.5" y2="410.1" stroke="#777" stroke-width="0.5"/>
<line x1="469" y1="398.6" x2="469" y2="421.6" stroke="#777" stroke-width="0.5"/>
<rect x="461.4" y="408.8" width="15.2" height="2.6" fill="#6a6a6a" stroke="#1e1e1e" stroke-width="0.8"/>
<circle cx="529.8" cy="410.1" r="7.9" stroke="#1e1e1e" stroke-width="1.2" fill="#fff"/>
<line x1="518.3" y1="410.1" x2="541.3" y2="410.1" stroke="#777" stroke-width="0.5"/>
<line x1="529.8" y1="398.6" x2="529.8" y2="421.6" stroke="#777" stroke-width="0.5"/>
<rect x="522.2" y="408.8" width="15.2" height="2.6" fill="#6a6a6a" stroke="#1e1e1e" stroke-width="0.8"/>
<circle cx="590.6" cy="410.1" r="7.9" stroke="#1e1e1e" stroke-width="1.2" fill="#fff"/>
<line x1="579.1" y1="410.1" x2="602.1" y2="410.1" stroke="#777" stroke-width="0.5"/>
<line x1="590.6" y1="398.6" x2="590.6" y2="421.6" stroke="#777" stroke-width="0.5"/>
<rect x="583" y="408.8" width="15.2" height="2.6" fill="#6a6a6a" stroke="#1e1e1e" stroke-width="0.8"/>
<circle cx="651.4" cy="410.1" r="7.9" stroke="#1e1e1e" stroke-width="1.2" fill="#fff"/>
<line x1="639.9" y1="410.1" x2="662.9" y2="410.1" stroke="#777" stroke-width="0.5"/>
<line x1="651.4" y1="398.6" x2="651.4" y2="421.6" stroke="#777" stroke-width="0.5"/>
<rect x="643.8" y="408.8" width="15.2" height="2.6" fill="#6a6a6a" stroke="#1e1e1e" stroke-width="0.8"/>
<circle cx="712.2" cy="410.1" r="7.9" stroke="#1e1e1e" stroke-width="1.2" fill="#fff"/>
<line x1="700.7" y1="410.1" x2="723.7" y2="410.1" stroke="#777" stroke-width="0.5"/>
<line x1="712.2" y1="398.6" x2="712.2" y2="421.6" stroke="#777" stroke-width="0.5"/>
<rect x="704.6" y="408.8" width="15.2" height="2.6" fill="#6a6a6a" stroke="#1e1e1e" stroke-width="0.8"/>
<circle cx="347.4" cy="470.9" r="7.9" stroke="#1e1e1e" stroke-width="1.2" fill="#fff"/>
<line x1="335.9" y1="470.9" x2="358.9" y2="470.9" stroke="#777" stroke-width="0.5"/>
<line x1="347.4" y1="459.4" x2="347.4" y2="482.4" stroke="#777" stroke-width="0.5"/>
<rect x="339.8" y="469.6" width="15.2" height="2.6" fill="#6a6a6a" stroke="#1e1e1e" stroke-width="0.8"/>
<circle cx="408.2" cy="470.9" r="7.9" stroke="#1e1e1e" stroke-width="1.2" fill="#fff"/>
<line x1="396.7" y1="470.9" x2="419.7" y2="470.9" stroke="#777" stroke-width="0.5"/>
<line x1="408.2" y1="459.4" x2="408.2" y2="482.4" stroke="#777" stroke-width="0.5"/>
<rect x="400.6" y="469.6" width="15.2" height="2.6" fill="#6a6a6a" stroke="#1e1e1e" stroke-width="0.8"/>
<circle cx="469" cy="470.9" r="7.9" stroke="#1e1e1e" stroke-width="1.2" fill="#fff"/>
<line x1="457.5" y1="470.9" x2="480.5" y2="470.9" stroke="#777" stroke-width="0.5"/>
<line x1="469" y1="459.4" x2="469" y2="482.4" stroke="#777" stroke-width="0.5"/>
<rect x="461.4" y="469.6" width="15.2" height="2.6" fill="#6a6a6a" stroke="#1e1e1e" stroke-width="0.8"/>
<circle cx="529.8" cy="470.9" r="7.9" stroke="#1e1e1e" stroke-width="1.2" fill="#fff"/>
<line x1="518.3" y1="470.9" x2="541.3" y2="470.9" stroke="#777" stroke-width="0.5"/>
<line x1="529.8" y1="459.4" x2="529.8" y2="482.4" stroke="#777" stroke-width="0.5"/>
<rect x="522.2" y="469.6" width="15.2" height="2.6" fill="#6a6a6a" stroke="#1e1e1e" stroke-width="0.8"/>
<circle cx="590.6" cy="470.9" r="7.9" stroke="#1e1e1e" stroke-width="1.2" fill="#fff"/>
<line x1="579.1" y1="470.9" x2="602.1" y2="470.9" stroke="#777" stroke-width="0.5"/>
<line x1="590.6" y1="459.4" x2="590.6" y2="482.4" stroke="#777" stroke-width="0.5"/>
<rect x="583" y="469.6" width="15.2" height="2.6" fill="#6a6a6a" stroke="#1e1e1e" stroke-width="0.8"/>
<circle cx="651.4" cy="470.9" r="7.9" stroke="#1e1e1e" stroke-width="1.2" fill="#fff"/>
<line x1="639.9" y1="470.9" x2="662.9" y2="470.9" stroke="#777" stroke-width="0.5"/>
<line x1="651.4" y1="459.4" x2="651.4" y2="482.4" stroke="#777" stroke-width="0.5"/>
<rect x="643.8" y="469.6" width="15.2" height="2.6" fill="#6a6a6a" stroke="#1e1e1e" stroke-width="0.8"/>
<circle cx="712.2" cy="470.9" r="7.9" stroke="#1e1e1e" stroke-width="1.2" fill="#fff"/>
<line x1="700.7" y1="470.9" x2="723.7" y2="470.9" stroke="#777" stroke-width="0.5"/>
<line x1="712.2" y1="459.4" x2="712.2" y2="482.4" stroke="#777" stroke-width="0.5"/>
<rect x="704.6" y="469.6" width="15.2" height="2.6" fill="#6a6a6a" stroke="#1e1e1e" stroke-width="0.8"/>
<circle cx="347.4" cy="531.7" r="7.9" stroke="#1e1e1e" stroke-width="1.2" fill="#fff"/>
<line x1="335.9" y1="531.7" x2="358.9" y2="531.7" stroke="#777" stroke-width="0.5"/>
<line x1="347.4" y1="520.2" x2="347.4" y2="543.2" stroke="#777" stroke-width="0.5"/>
<rect x="339.8" y="530.4" width="15.2" height="2.6" fill="#6a6a6a" stroke="#1e1e1e" stroke-width="0.8"/>
<circle cx="408.2" cy="531.7" r="7.9" stroke="#1e1e1e" stroke-width="1.2" fill="#fff"/>
<line x1="396.7" y1="531.7" x2="419.7" y2="531.7" stroke="#777" stroke-width="0.5"/>
<line x1="408.2" y1="520.2" x2="408.2" y2="543.2" stroke="#777" stroke-width="0.5"/>
<rect x="400.6" y="530.4" width="15.2" height="2.6" fill="#6a6a6a" stroke="#1e1e1e" stroke-width="0.8"/>
<circle cx="469" cy="531.7" r="7.9" stroke="#1e1e1e" stroke-width="1.2" fill="#fff"/>
<line x1="457.5" y1="531.7" x2="480.5" y2="531.7" stroke="#777" stroke-width="0.5"/>
<line x1="469" y1="520.2" x2="469" y2="543.2" stroke="#777" stroke-width="0.5"/>
<rect x="461.4" y="530.4" width="15.2" height="2.6" fill="#6a6a6a" stroke="#1e1e1e" stroke-width="0.8"/>
<circle cx="529.8" cy="531.7" r="7.9" stroke="#1e1e1e" stroke-width="1.2" fill="#fff"/>
<line x1="518.3" y1="531.7" x2="541.3" y2="531.7" stroke="#777" stroke-width="0.5"/>
<line x1="529.8" y1="520.2" x2="529.8" y2="543.2" stroke="#777" stroke-width="0.5"/>
<rect x="522.2" y="530.4" width="15.2" height="2.6" fill="#6a6a6a" stroke="#1e1e1e" stroke-width="0.8"/>
<circle cx="590.6" cy="531.7" r="7.9" stroke="#1e1e1e" stroke-width="1.2" fill="#fff"/>
<line x1="579.1" y1="531.7" x2="602.1" y2="531.7" stroke="#777" stroke-width="0.5"/>
<line x1="590.6" y1="520.2" x2="590.6" y2="543.2" stroke="#777" stroke-width="0.5"/>
<rect x="583" y="530.4" width="15.2" height="2.6" fill="#6a6a6a" stroke="#1e1e1e" stroke-width="0.8"/>
<circle cx="651.4" cy="531.7" r="7.9" stroke="#1e1e1e" stroke-width="1.2" fill="#fff"/>
<line x1="639.9" y1="531.7" x2="662.9" y2="531.7" stroke="#777" stroke-width="0.5"/>
<line x1="651.4" y1="520.2" x2="651.4" y2="543.2" stroke="#777" stroke-width="0.5"/>
<rect x="643.8" y="530.4" width="15.2" height="2.6" fill="#6a6a6a" stroke="#1e1e1e" stroke-width="0.8"/>
<circle cx="712.2" cy="531.7" r="7.9" stroke="#1e1e1e" stroke-width="1.2" fill="#fff"/>
<line x1="700.7" y1="531.7" x2="723.7" y2="531.7" stroke="#777" stroke-width="0.5"/>
<line x1="712.2" y1="520.2" x2="712.2" y2="543.2" stroke="#777" stroke-width="0.5"/>
<rect x="704.6" y="530.4" width="15.2" height="2.6" fill="#6a6a6a" stroke="#1e1e1e" stroke-width="0.8"/>
<circle cx="347.4" cy="592.5" r="7.9" stroke="#1e1e1e" stroke-width="1.2" fill="#fff"/>
<line x1="335.9" y1="592.5" x2="358.9" y2="592.5" stroke="#777" stroke-width="0.5"/>
<line x1="347.4" y1="581" x2="347.4" y2="604" stroke="#777" stroke-width="0.5"/>
<rect x="339.8" y="591.2" width="15.2" height="2.6" fill="#6a6a6a" stroke="#1e1e1e" stroke-width="0.8"/>
<circle cx="408.2" cy="592.5" r="7.9" stroke="#1e1e1e" stroke-width="1.2" fill="#fff"/>
<line x1="396.7" y1="592.5" x2="419.7" y2="592.5" stroke="#777" stroke-width="0.5"/>
<line x1="408.2" y1="581" x2="408.2" y2="604" stroke="#777" stroke-width="0.5"/>
<rect x="400.6" y="591.2" width="15.2" height="2.6" fill="#6a6a6a" stroke="#1e1e1e" stroke-width="0.8"/>
<circle cx="469" cy="592.5" r="7.9" stroke="#1e1e1e" stroke-width="1.2" fill="#fff"/>
<line x1="457.5" y1="592.5" x2="480.5" y2="592.5" stroke="#777" stroke-width="0.5"/>
<line x1="469" y1="581" x2="469" y2="604" stroke="#777" stroke-width="0.5"/>
<rect x="461.4" y="591.2" width="15.2" height="2.6" fill="#6a6a6a" stroke="#1e1e1e" stroke-width="0.8"/>
<circle cx="529.8" cy="592.5" r="7.9" stroke="#1e1e1e" stroke-width="1.2" fill="#fff"/>
<line x1="518.3" y1="592.5" x2="541.3" y2="592.5" stroke="#777" stroke-width="0.5"/>
<line x1="529.8" y1="581" x2="529.8" y2="604" stroke="#777" stroke-width="0.5"/>
<rect x="522.2" y="591.2" width="15.2" height="2.6" fill="#6a6a6a" stroke="#1e1e1e" stroke-width="0.8"/>
<circle cx="590.6" cy="592.5" r="7.9" stroke="#1e1e1e" stroke-width="1.2" fill="#fff"/>
<line x1="579.1" y1="592.5" x2="602.1" y2="592.5" stroke="#777" stroke-width="0.5"/>
<line x1="590.6" y1="581" x2="590.6" y2="604" stroke="#777" stroke-width="0.5"/>
<rect x="583" y="591.2" width="15.2" height="2.6" fill="#6a6a6a" stroke="#1e1e1e" stroke-width="0.8"/>
<circle cx="651.4" cy="592.5" r="7.9" stroke="#1e1e1e" stroke-width="1.2" fill="#fff"/>
<line x1="639.9" y1="592.5" x2="662.9" y2="592.5" stroke="#777" stroke-width="0.5"/>
<line x1="651.4" y1="581" x2="651.4" y2="604" stroke="#777" stroke-width="0.5"/>
<rect x="643.8" y="591.2" width="15.2" height="2.6" fill="#6a6a6a" stroke="#1e1e1e" stroke-width="0.8"/>
<circle cx="712.2" cy="592.5" r="7.9" stroke="#1e1e1e" stroke-width="1.2" fill="#fff"/>
<line x1="700.7" y1="592.5" x2="723.7" y2="592.5" stroke="#777" stroke-width="0.5"/>
<line x1="712.2" y1="581" x2="712.2" y2="604" stroke="#777" stroke-width="0.5"/>
<rect x="704.6" y="591.2" width="15.2" height="2.6" fill="#6a6a6a" stroke="#1e1e1e" stroke-width="0.8"/>
<circle cx="408.2" cy="653.3" r="7.9" stroke="#1e1e1e" stroke-width="1.2" fill="#fff"/>
<line x1="396.7" y1="653.3" x2="419.7" y2="653.3" stroke="#777" stroke-width="0.5"/>
<line x1="408.2" y1="641.8" x2="408.2" y2="664.8" stroke="#777" stroke-width="0.5"/>
<rect x="400.6" y="652" width="15.2" height="2.6" fill="#6a6a6a" stroke="#1e1e1e" stroke-width="0.8"/>
<circle cx="469" cy="653.3" r="7.9" stroke="#1e1e1e" stroke-width="1.2" fill="#fff"/>
<line x1="457.5" y1="653.3" x2="480.5" y2="653.3" stroke="#777" stroke-width="0.5"/>
<line x1="469" y1="641.8" x2="469" y2="664.8" stroke="#777" stroke-width="0.5"/>
<rect x="461.4" y="652" width="15.2" height="2.6" fill="#6a6a6a" stroke="#1e1e1e" stroke-width="0.8"/>
<circle cx="529.8" cy="653.3" r="12.3" stroke="#222" stroke-width="1.1" fill="#fff"/>
<circle cx="529.8" cy="653.3" r="7.8" stroke="#333" stroke-width="0.8" fill="none"/>
<line x1="514.8" y1="653.3" x2="544.8" y2="653.3" stroke="#777" stroke-width="0.5"/>
<line x1="529.8" y1="638.3" x2="529.8" y2="668.3" stroke="#777" stroke-width="0.5"/>
<circle cx="590.6" cy="653.3" r="7.9" stroke="#1e1e1e" stroke-width="1.2" fill="#fff"/>
<line x1="579.1" y1="653.3" x2="602.1" y2="653.3" stroke="#777" stroke-width="0.5"/>
<line x1="590.6" y1="641.8" x2="590.6" y2="664.8" stroke="#777" stroke-width="0.5"/>
<rect x="583" y="652" width="15.2" height="2.6" fill="#6a6a6a" stroke="#1e1e1e" stroke-width="0.8"/>
<circle cx="651.4" cy="653.3" r="7.9" stroke="#1e1e1e" stroke-width="1.2" fill="#fff"/>
<line x1="639.9" y1="653.3" x2="662.9" y2="653.3" stroke="#777" stroke-width="0.5"/>
<line x1="651.4" y1="641.8" x2="651.4" y2="664.8" stroke="#777" stroke-width="0.5"/>
<rect x="643.8" y="652" width="15.2" height="2.6" fill="#6a6a6a" stroke="#1e1e1e" stroke-width="0.8"/>
<circle cx="377.8" cy="288.5" r="7.9" stroke="#1e1e1e" stroke-width="1.2" fill="#fff"/>
<line x1="366.3" y1="288.5" x2="389.3" y2="288.5" stroke="#777" stroke-width="0.5"/>
<line x1="377.8" y1="277" x2="377.8" y2="300" stroke="#777" stroke-width="0.5"/>
<rect x="370.2" y="287.2" width="15.2" height="2.6" fill="#6a6a6a" stroke="#1e1e1e" stroke-width="0.8"/>
<circle cx="681.8" cy="288.5" r="7.9" stroke="#1e1e1e" stroke-width="1.2" fill="#fff"/>
<line x1="670.3" y1="288.5" x2="693.3" y2="288.5" stroke="#777" stroke-width="0.5"/>
<line x1="681.8" y1="277" x2="681.8" y2="300" stroke="#777" stroke-width="0.5"/>
<rect x="674.2" y="287.2" width="15.2" height="2.6" fill="#6a6a6a" stroke="#1e1e1e" stroke-width="0.8"/>
<circle cx="377.8" cy="592.5" r="7.9" stroke="#1e1e1e" stroke-width="1.2" fill="#fff"/>
<line x1="366.3" y1="592.5" x2="389.3" y2="592.5" stroke="#777" stroke-width="0.5"/>
<line x1="377.8" y1="581" x2="377.8" y2="604" stroke="#777" stroke-width="0.5"/>
<rect x="370.2" y="591.2" width="15.2" height="2.6" fill="#6a6a6a" stroke="#1e1e1e" stroke-width="0.8"/>
<circle cx="681.8" cy="592.5" r="7.9" stroke="#1e1e1e" stroke-width="1.2" fill="#fff"/>
<line x1="670.3" y1="592.5" x2="693.3" y2="592.5" stroke="#777" stroke-width="0.5"/>
<line x1="681.8" y1="581" x2="681.8" y2="604" stroke="#777" stroke-width="0.5"/>
<rect x="674.2" y="591.2" width="15.2" height="2.6" fill="#6a6a6a" stroke="#1e1e1e" stroke-width="0.8"/>
<circle cx="679.2" cy="224.3" r="2" stroke="none" stroke-width="0" fill="#111"/>
<line x1="529.8" y1="188" x2="529.8" y2="421.2" stroke="#555" stroke-width="0.6" stroke-dasharray="14 3 2 3"/>
<line x1="244" y1="440.5" x2="800" y2="440.5" stroke="#666" stroke-width="0.5" stroke-dasharray="14 3 2 3"/>
<line x1="377.8" y1="186" x2="377.8" y2="421.2" stroke="#2a2a2a" stroke-width="0.9" stroke-dasharray="14 3 2 3"/>
<line x1="377.8" y1="421.2" x2="529.8" y2="421.2" stroke="#2a2a2a" stroke-width="0.9" stroke-dasharray="14 3 2 3"/>
<line x1="529.8" y1="421.2" x2="529.8" y2="683" stroke="#333" stroke-width="0.8" stroke-dasharray="14 3 2 3"/>
<line x1="529.8" y1="683" x2="529.8" y2="733" stroke="#555" stroke-width="0.6"/>
<line x1="499.4" y1="176" x2="499.4" y2="266" stroke="#555" stroke-width="0.6"/>
<line x1="560.2" y1="176" x2="560.2" y2="266" stroke="#555" stroke-width="0.6"/>
<line x1="678.8" y1="141.3" x2="678.8" y2="224" stroke="#555" stroke-width="0.6"/>
<line x1="678.8" y1="141.3" x2="694.2" y2="141.3" stroke="#555" stroke-width="0.6"/>
<line x1="252.1" y1="79" x2="807" y2="79" stroke="#333" stroke-width="1.4"/>
<polyline points="252.1,79 252.1,54.7 385.7,54.7 394.2,58.3 394.2,79" stroke="#333" stroke-width="1.1" fill="none"/>
<line x1="261.9" y1="54.7" x2="261.9" y2="79" stroke="#444" stroke-width="0.8"/>
<line x1="387.4" y1="58.3" x2="387.4" y2="79" stroke="#444" stroke-width="0.8"/>
<line x1="286.5" y1="58.1" x2="387.4" y2="58.1" stroke="#444" stroke-width="0.8"/>
<line x1="286.5" y1="54.7" x2="286.5" y2="58.1" stroke="#444" stroke-width="0.8"/>
<polyline points="666,79 666,58.3 672,54.7 806.9,54.7 806.9,79" stroke="#333" stroke-width="1.1" fill="none"/>
<line x1="672.1" y1="58.3" x2="672.1" y2="79" stroke="#444" stroke-width="0.8"/>
<line x1="798.4" y1="54.7" x2="798.4" y2="79" stroke="#444" stroke-width="0.8"/>
<line x1="672.1" y1="58.1" x2="773.1" y2="58.1" stroke="#444" stroke-width="0.8"/>
<line x1="773.1" y1="54.7" x2="773.1" y2="58.1" stroke="#444" stroke-width="0.8"/>
<polyline points="286.2,54.7 286.2,29.9 772.9,29.9 772.9,54.7" stroke="#333" stroke-width="1.1" fill="none"/>
<line x1="286.2" y1="54.7" x2="394" y2="54.7" stroke="#333" stroke-width="1.4"/>
<line x1="666" y1="54.7" x2="773" y2="54.7" stroke="#333" stroke-width="1.4"/>
<line x1="286.2" y1="31.6" x2="772.9" y2="31.6" stroke="#777" stroke-width="0.6"/>
<line x1="295.4" y1="29.9" x2="295.4" y2="54.7" stroke="#444" stroke-width="0.8"/>
<line x1="338.4" y1="29.9" x2="338.4" y2="54.7" stroke="#444" stroke-width="0.8"/>
<line x1="359.5" y1="29.9" x2="359.5" y2="54.7" stroke="#444" stroke-width="0.8"/>
<line x1="700.1" y1="29.9" x2="700.1" y2="54.7" stroke="#444" stroke-width="0.8"/>
<line x1="721.2" y1="29.9" x2="721.2" y2="54.7" stroke="#444" stroke-width="0.8"/>
<line x1="764.4" y1="29.9" x2="764.4" y2="54.7" stroke="#444" stroke-width="0.8"/>
<path d="M 294.4 29 L 295.7 21 Q 296.1 18.4 298.4 18.4 L 335.6 18.4 Q 337.9 18.4 338.3 21 L 339.6 29" stroke="#2a2a2a" stroke-width="1.0" fill="none"/>
<line x1="296.9" y1="18.5" x2="337.1" y2="18.5" stroke="#222" stroke-width="0.9"/>
<line x1="295.8" y1="20.3" x2="317" y2="20.3" stroke="#444" stroke-width="0.8"/>
<path d="M 317 20.3 Q 317.6 23 317.6 29" stroke="#444" stroke-width="0.8" fill="none"/>
<line x1="317.6" y1="28.4" x2="339.6" y2="28.4" stroke="#444" stroke-width="1.5"/>
<path d="M 355.2 29 L 356.5 21 Q 356.9 18.4 359.2 18.4 L 396.4 18.4 Q 398.7 18.4 399.1 21 L 400.4 29" stroke="#2a2a2a" stroke-width="1.0" fill="none"/>
<line x1="357.7" y1="18.5" x2="397.9" y2="18.5" stroke="#222" stroke-width="0.9"/>
<line x1="356.6" y1="20.3" x2="377.8" y2="20.3" stroke="#444" stroke-width="0.8"/>
<path d="M 377.8 20.3 Q 378.4 23 378.4 29" stroke="#444" stroke-width="0.8" fill="none"/>
<line x1="378.4" y1="28.4" x2="400.4" y2="28.4" stroke="#444" stroke-width="1.5"/>
<path d="M 416 29 L 417.3 21 Q 417.7 18.4 420 18.4 L 457.2 18.4 Q 459.5 18.4 459.9 21 L 461.2 29" stroke="#2a2a2a" stroke-width="1.0" fill="none"/>
<line x1="418.5" y1="18.5" x2="458.7" y2="18.5" stroke="#222" stroke-width="0.9"/>
<line x1="416.3" y1="28.4" x2="460.9" y2="28.4" stroke="#444" stroke-width="1.5"/>
<path d="M 476.8 29 L 478.1 21 Q 478.5 18.4 480.8 18.4 L 518 18.4 Q 520.3 18.4 520.7 21 L 522 29" stroke="#2a2a2a" stroke-width="1.0" fill="none"/>
<line x1="479.3" y1="18.5" x2="519.5" y2="18.5" stroke="#222" stroke-width="0.9"/>
<line x1="477.1" y1="28.4" x2="521.7" y2="28.4" stroke="#444" stroke-width="1.5"/>
<path d="M 537.6 29 L 538.9 21 Q 539.3 18.4 541.6 18.4 L 578.8 18.4 Q 581.1 18.4 581.5 21 L 582.8 29" stroke="#2a2a2a" stroke-width="1.0" fill="none"/>
<line x1="540.1" y1="18.5" x2="580.3" y2="18.5" stroke="#222" stroke-width="0.9"/>
<line x1="537.9" y1="28.4" x2="582.5" y2="28.4" stroke="#444" stroke-width="1.5"/>
<path d="M 598.4 29 L 599.7 21 Q 600.1 18.4 602.4 18.4 L 639.6 18.4 Q 641.9 18.4 642.3 21 L 643.6 29" stroke="#2a2a2a" stroke-width="1.0" fill="none"/>
<line x1="600.9" y1="18.5" x2="641.1" y2="18.5" stroke="#222" stroke-width="0.9"/>
<line x1="598.7" y1="28.4" x2="643.3" y2="28.4" stroke="#444" stroke-width="1.5"/>
<path d="M 659.2 29 L 660.5 21 Q 660.9 18.4 663.2 18.4 L 700.4 18.4 Q 702.7 18.4 703.1 21 L 704.4 29" stroke="#2a2a2a" stroke-width="1.0" fill="none"/>
<line x1="661.7" y1="18.5" x2="701.9" y2="18.5" stroke="#222" stroke-width="0.9"/>
<line x1="681.8" y1="20.5" x2="703" y2="20.5" stroke="#444" stroke-width="0.8"/>
<path d="M 681.8 20.5 Q 681.2 23 681.2 29" stroke="#444" stroke-width="0.8" fill="none"/>
<line x1="659.2" y1="28.4" x2="681.2" y2="28.4" stroke="#444" stroke-width="1.5"/>
<path d="M 720 29 L 721.3 21 Q 721.7 18.4 724 18.4 L 761.2 18.4 Q 763.5 18.4 763.9 21 L 765.2 29" stroke="#2a2a2a" stroke-width="1.0" fill="none"/>
<line x1="722.5" y1="18.5" x2="762.7" y2="18.5" stroke="#222" stroke-width="0.9"/>
<line x1="742.6" y1="20.5" x2="763.8" y2="20.5" stroke="#444" stroke-width="0.8"/>
<path d="M 742.6 20.5 Q 742 23 742 29" stroke="#444" stroke-width="0.8" fill="none"/>
<line x1="720" y1="28.4" x2="742" y2="28.4" stroke="#444" stroke-width="1.5"/>
<rect x="416.6" y="48.1" width="80.1" height="30.9" stroke="#333" stroke-width="1.0" fill="#fff"/>
<rect x="422.2" y="49.9" width="68.9" height="27.6" stroke="#222" stroke-width="1.3" fill="none"/>
<line x1="422.2" y1="49.6" x2="491.1" y2="49.6" stroke="#1a1a1a" stroke-width="2.0"/>
<rect x="423.8" y="51.5" width="65.7" height="24.4" stroke="#777" stroke-width="0.5" fill="none"/>
<circle cx="425.4" cy="64.4" r="2.4" stroke="#333" stroke-width="0.7" fill="#fff"/>
<circle cx="487.9" cy="64.4" r="2.4" stroke="#333" stroke-width="0.7" fill="#fff"/>
<rect x="562.8" y="48.1" width="79.4" height="30.9" stroke="#333" stroke-width="1.0" fill="#fff"/>
<rect x="568.4" y="49.9" width="68.2" height="27.6" stroke="#222" stroke-width="1.3" fill="none"/>
<line x1="568.4" y1="49.6" x2="636.6" y2="49.6" stroke="#1a1a1a" stroke-width="2.0"/>
<rect x="570" y="51.5" width="65" height="24.4" stroke="#777" stroke-width="0.5" fill="none"/>
<circle cx="571.6" cy="64.4" r="2.4" stroke="#333" stroke-width="0.7" fill="#fff"/>
<circle cx="633.4" cy="64.4" r="2.4" stroke="#333" stroke-width="0.7" fill="#fff"/>
<polygon points="430,67.6 433,61 443.8,61 440.8,67.6" stroke="#222" stroke-width="0.9" fill="none"/>
<text x="446" y="67.4" font-size="9.5" text-anchor="start" font-weight="bold" fill="#666" textLength="35.5" lengthAdjust="spacingAndGlyphs">SINCO</text>
<circle cx="482.8" cy="58.8" r="1.4" stroke="none" stroke-width="0" fill="#111"/>
<text x="576.5" y="55.8" font-size="5.2" text-anchor="start" font-weight="bold" fill="#222">TYPE:</text>
<text x="576.5" y="65.5" font-size="5.2" text-anchor="start" font-weight="bold" fill="#222">CODE:</text>
<text x="576.5" y="70.4" font-size="5.2" text-anchor="start" font-weight="bold" fill="#222">WEIGHT:</text>
<text x="576.5" y="75.4" font-size="5.2" text-anchor="start" font-weight="bold" fill="#222">SN/YEAR.:</text>
<line x1="400.4" y1="80.5" x2="400.4" y2="105.4" stroke="#555" stroke-width="0.6"/>
<polygon points="400.4,80.2 402.6,86.96 402.6,93.2 398.2,93.2 398.2,86.96" stroke="#666" stroke-width="0.7" fill="none"/>
<line x1="400.4" y1="80.2" x2="400.4" y2="86.96" stroke="#333" stroke-width="0.9"/>
<line x1="385.7" y1="105.4" x2="400.4" y2="105.4" stroke="#555" stroke-width="0.6"/>
<line x1="766" y1="18.5" x2="927.6" y2="18.5" stroke="#555" stroke-width="0.6"/>
<line x1="773" y1="29.4" x2="892.6" y2="29.4" stroke="#555" stroke-width="0.6"/>
<line x1="807" y1="55.1" x2="846" y2="55.1" stroke="#555" stroke-width="0.6"/>
<line x1="807" y1="79.2" x2="927.6" y2="79.2" stroke="#555" stroke-width="0.6"/>
<line x1="843.8" y1="30.6" x2="843.8" y2="113" stroke="#555" stroke-width="0.6"/>
<polygon points="843.8,55.1 841.6,47.82 841.6,41.1 846,41.1 846,47.82" stroke="#666" stroke-width="0.7" fill="none"/>
<line x1="843.8" y1="55.1" x2="843.8" y2="47.82" stroke="#333" stroke-width="0.9"/>
<polygon points="843.8,79.2 846,86.48 846,93.2 841.6,93.2 841.6,86.48" stroke="#666" stroke-width="0.7" fill="none"/>
<line x1="843.8" y1="79.2" x2="843.8" y2="86.48" stroke="#333" stroke-width="0.9"/>
<line x1="890" y1="29.4" x2="890" y2="79.2" stroke="#555" stroke-width="0.6"/>
<polygon points="890,29.6 892.2,36.62 892.2,43.1 887.8,43.1 887.8,36.62" stroke="#666" stroke-width="0.7" fill="none"/>
<line x1="890" y1="29.6" x2="890" y2="36.62" stroke="#333" stroke-width="0.9"/>
<polygon points="890,79 887.8,71.98 887.8,65.5 892.2,65.5 892.2,71.98" stroke="#666" stroke-width="0.7" fill="none"/>
<line x1="890" y1="79" x2="890" y2="71.98" stroke="#333" stroke-width="0.9"/>
<line x1="925.4" y1="18.5" x2="925.4" y2="79.2" stroke="#555" stroke-width="0.6"/>
<polygon points="925.4,18.7 927.6,25.72 927.6,32.2 923.2,32.2 923.2,25.72" stroke="#666" stroke-width="0.7" fill="none"/>
<line x1="925.4" y1="18.7" x2="925.4" y2="25.72" stroke="#333" stroke-width="0.9"/>
<polygon points="925.4,79 923.2,71.98 923.2,65.5 927.6,65.5 927.6,71.98" stroke="#666" stroke-width="0.7" fill="none"/>
<line x1="925.4" y1="79" x2="925.4" y2="71.98" stroke="#333" stroke-width="0.9"/>
<text x="0" y="0" font-size="27.5" text-anchor="middle" fill="#111" stroke="#111" stroke-width="0.35" textLength="21.9" lengthAdjust="spacingAndGlyphs" transform="translate(837.2 100.5) rotate(-90)">20</text>
<text x="0" y="0" font-size="28.5" text-anchor="middle" fill="#111" stroke="#111" stroke-width="0.35" textLength="12.2" lengthAdjust="spacingAndGlyphs" transform="translate(883.9 54.3) rotate(-90)">C</text>
<text x="0" y="0" font-size="27.5" text-anchor="middle" fill="#111" stroke="#111" stroke-width="0.35" textLength="11.4" lengthAdjust="spacingAndGlyphs" transform="translate(918.9 48.6) rotate(-90)">D</text>
<rect x="295.3" y="93.4" width="24.2" height="24.1" stroke="#555" stroke-width="0.8" fill="none"/>
<polygon points="298.8,111.25 303.3,99.65 315.8,99.65 311.5,111.25" stroke="#444" stroke-width="0.7" fill="none"/>
<rect x="319.5" y="93.4" width="66.2" height="24.1" stroke="#555" stroke-width="0.8" fill="none"/>
<text x="352.6" y="111.05" font-size="16.2" text-anchor="middle" font-weight="normal" fill="#111" textLength="52.2" lengthAdjust="spacingAndGlyphs">0,01/300</text>
<rect x="330.8" y="128" width="24.9" height="24.7" stroke="#555" stroke-width="0.8" fill="none"/>
<text x="343.25" y="145.95" font-size="16.2" text-anchor="middle" font-weight="normal" fill="#111" textLength="9.5" lengthAdjust="spacingAndGlyphs">A</text>
<polygon points="338.25,117.5 348.25,117.5 343.25,125" stroke="#111" stroke-width="0.5" fill="#111"/>
<line x1="343.25" y1="125" x2="343.25" y2="128" stroke="#444" stroke-width="0.7"/>
<text x="695.3" y="124.2" font-size="15.5" text-anchor="start" font-weight="normal" fill="#111" textLength="33.9" lengthAdjust="spacingAndGlyphs">Nx UF</text>
<rect x="694.2" y="129.2" width="24.8" height="24.2" stroke="#555" stroke-width="0.8" fill="none"/>
<polygon points="697.7,147.1 702.2,135.5 714.7,135.5 710.4,147.1" stroke="#444" stroke-width="0.7" fill="none"/>
<rect x="719" y="129.2" width="57.8" height="24.2" stroke="#555" stroke-width="0.8" fill="none"/>
<text x="747.9" y="146.9" font-size="16.2" text-anchor="middle" font-weight="normal" fill="#111" textLength="45.5" lengthAdjust="spacingAndGlyphs">0,01 CZ</text>
<rect x="694.2" y="153.4" width="24.8" height="24.2" stroke="#555" stroke-width="0.8" fill="none"/>
<line x1="700.1" y1="172" x2="705.1" y2="159" stroke="#444" stroke-width="0.7"/>
<line x1="707.1" y1="172" x2="712.1" y2="159" stroke="#444" stroke-width="0.7"/>
<rect x="719" y="153.4" width="57.8" height="24.2" stroke="#555" stroke-width="0.8" fill="none"/>
<text x="747.9" y="171.1" font-size="16.2" text-anchor="middle" font-weight="normal" fill="#111" textLength="45.5" lengthAdjust="spacingAndGlyphs">0,01 CZ</text>
<rect x="776.8" y="153.4" width="24.5" height="24.2" stroke="#555" stroke-width="0.8" fill="none"/>
<text x="789.05" y="171.1" font-size="16.2" text-anchor="middle" font-weight="normal" fill="#111" textLength="9.5" lengthAdjust="spacingAndGlyphs">A</text>
<rect x="910.2" y="148.5" width="24.1" height="23.9" stroke="#555" stroke-width="0.8" fill="none"/>
<line x1="922.25" y1="152.95" x2="922.25" y2="166.95" stroke="#333" stroke-width="1.0"/>
<line x1="914.25" y1="166.95" x2="930.25" y2="166.95" stroke="#555" stroke-width="0.8"/>
<rect x="934.3" y="148.5" width="39" height="23.9" stroke="#555" stroke-width="0.8" fill="none"/>
<text x="953.8" y="166.05" font-size="16.2" text-anchor="middle" font-weight="normal" fill="#111" textLength="24.4" lengthAdjust="spacingAndGlyphs">0,01</text>
<rect x="973.3" y="148.5" width="24.1" height="23.9" stroke="#555" stroke-width="0.8" fill="none"/>
<text x="985.35" y="166.05" font-size="16.2" text-anchor="middle" font-weight="normal" fill="#111" textLength="9.5" lengthAdjust="spacingAndGlyphs">A</text>
<rect x="910.2" y="172.4" width="24.1" height="24" stroke="#555" stroke-width="0.8" fill="none"/>
<line x1="914.25" y1="184.4" x2="930.25" y2="184.4" stroke="#555" stroke-width="0.9"/>
<line x1="917.25" y1="180.9" x2="927.25" y2="180.9" stroke="#888" stroke-width="0.9"/>
<line x1="917.25" y1="187.9" x2="927.25" y2="187.9" stroke="#888" stroke-width="0.9"/>
<rect x="934.3" y="172.4" width="39" height="24" stroke="#555" stroke-width="0.8" fill="none"/>
<text x="953.8" y="190" font-size="16.2" text-anchor="middle" font-weight="normal" fill="#111" textLength="24.4" lengthAdjust="spacingAndGlyphs">0,01</text>
<rect x="941.3" y="107.5" width="24.8" height="24" stroke="#555" stroke-width="0.8" fill="none"/>
<text x="953.7" y="125.1" font-size="16.2" text-anchor="middle" font-weight="normal" fill="#111" textLength="8.5" lengthAdjust="spacingAndGlyphs">C</text>
<polygon points="948.7,148.5 958.7,148.5 953.7,141" stroke="#111" stroke-width="0.5" fill="#111"/>
<line x1="953.7" y1="141" x2="953.7" y2="131.5" stroke="#444" stroke-width="0.7"/>
<polyline points="910.2,160.2 885.5,160.2 885.5,197.6" stroke="#555" stroke-width="0.6" fill="none"/>
<polygon points="885.5,197.6 883.3,190.32 883.3,183.6 887.7,183.6 887.7,190.32" stroke="#666" stroke-width="0.7" fill="none"/>
<line x1="885.5" y1="197.6" x2="885.5" y2="190.32" stroke="#333" stroke-width="0.9"/>
<rect x="1083.2" y="190.6" width="24.4" height="24.4" stroke="#555" stroke-width="0.8" fill="none"/>
<polygon points="1086.7,208.6 1091.2,197 1103.7,197 1099.4,208.6" stroke="#444" stroke-width="0.7" fill="none"/>
<rect x="1107.6" y="190.6" width="66" height="24.4" stroke="#555" stroke-width="0.8" fill="none"/>
<text x="1140.6" y="208.4" font-size="16.2" text-anchor="middle" font-weight="normal" fill="#111" textLength="52.2" lengthAdjust="spacingAndGlyphs">0,01/300</text>
<rect x="1083.2" y="215" width="24.4" height="23.8" stroke="#555" stroke-width="0.8" fill="none"/>
<line x1="1088.9" y1="233.4" x2="1093.9" y2="220.4" stroke="#444" stroke-width="0.7"/>
<line x1="1095.9" y1="233.4" x2="1100.9" y2="220.4" stroke="#444" stroke-width="0.7"/>
<rect x="1107.6" y="215" width="66" height="23.8" stroke="#555" stroke-width="0.8" fill="none"/>
<text x="1140.6" y="232.5" font-size="16.2" text-anchor="middle" font-weight="normal" fill="#111" textLength="52.2" lengthAdjust="spacingAndGlyphs">0,01/300</text>
<rect x="1173.6" y="215" width="23.8" height="23.8" stroke="#555" stroke-width="0.8" fill="none"/>
<text x="1185.5" y="232.5" font-size="16.2" text-anchor="middle" font-weight="normal" fill="#111" textLength="9.5" lengthAdjust="spacingAndGlyphs">A</text>
<line x1="1055" y1="201.5" x2="1083.2" y2="201.5" stroke="#555" stroke-width="0.6"/>
<polygon points="1050,201.5 1055.72,199.5 1061,199.5 1061,203.5 1055.72,203.5" stroke="#666" stroke-width="0.7" fill="none"/>
<line x1="1050" y1="201.5" x2="1055.72" y2="201.5" stroke="#333" stroke-width="0.9"/>
<text x="72.1" y="197.6" font-size="18.8" text-anchor="start" font-weight="normal" fill="#111" textLength="162" lengthAdjust="spacingAndGlyphs">MULTIZERO POINT (Gx)</text>
<rect x="62.8" y="202.7" width="24.6" height="23.8" stroke="#555" stroke-width="0.8" fill="none"/>
<circle cx="75.1" cy="214.6" r="4.6" stroke="#444" stroke-width="0.8" fill="none"/>
<line x1="67.1" y1="214.6" x2="83.1" y2="214.6" stroke="#444" stroke-width="0.7"/>
<line x1="75.1" y1="206.6" x2="75.1" y2="222.6" stroke="#444" stroke-width="0.7"/>
<rect x="87.4" y="202.7" width="75.9" height="23.8" stroke="#555" stroke-width="0.8" fill="none"/>
<circle cx="99.6" cy="214.6" r="3.6" stroke="#555" stroke-width="0.7" fill="none"/>
<line x1="95.1" y1="220.1" x2="104.1" y2="209.1" stroke="#555" stroke-width="0.7"/>
<text x="159.8" y="220.2" font-size="16.2" text-anchor="end" font-weight="normal" fill="#111" textLength="44.5" lengthAdjust="spacingAndGlyphs">0,01 CZ</text>
<rect x="163.3" y="202.7" width="24.1" height="23.8" stroke="#555" stroke-width="0.8" fill="none"/>
<text x="175.35" y="220.2" font-size="16.2" text-anchor="middle" font-weight="normal" fill="#111" textLength="9.5" lengthAdjust="spacingAndGlyphs">A</text>
<rect x="187.4" y="202.7" width="24.1" height="23.8" stroke="#555" stroke-width="0.8" fill="none"/>
<text x="199.45" y="220.2" font-size="16.2" text-anchor="middle" font-weight="normal" fill="#111" textLength="8.5" lengthAdjust="spacingAndGlyphs">B</text>
<rect x="211.5" y="202.7" width="25" height="23.8" stroke="#555" stroke-width="0.8" fill="none"/>
<text x="224" y="220.2" font-size="16.2" text-anchor="middle" font-weight="normal" fill="#111" textLength="8.5" lengthAdjust="spacingAndGlyphs">C</text>
<line x1="236.5" y1="202.7" x2="340.5" y2="311.5" stroke="#444" stroke-width="0.6"/>
<polygon points="342.5,313.6 337.47,311.21 334.16,307.74 337.05,304.98 340.36,308.46" stroke="#666" stroke-width="0.7" fill="none"/>
<line x1="342.5" y1="313.6" x2="338.91" y2="309.83" stroke="#333" stroke-width="0.9"/>
<text x="101.7" y="576.1" font-size="18.8" text-anchor="start" font-weight="normal" fill="#111" textLength="126.5" lengthAdjust="spacingAndGlyphs">THREAD M12 (Hx)</text>
<rect x="56.3" y="580.6" width="24.1" height="24.5" stroke="#555" stroke-width="0.8" fill="none"/>
<circle cx="68.35" cy="592.85" r="4.6" stroke="#444" stroke-width="0.8" fill="none"/>
<line x1="60.35" y1="592.85" x2="76.35" y2="592.85" stroke="#444" stroke-width="0.7"/>
<line x1="68.35" y1="584.85" x2="68.35" y2="600.85" stroke="#444" stroke-width="0.7"/>
<rect x="80.4" y="580.6" width="75.9" height="24.5" stroke="#555" stroke-width="0.8" fill="none"/>
<circle cx="92.6" cy="592.85" r="3.6" stroke="#555" stroke-width="0.7" fill="none"/>
<line x1="88.1" y1="598.35" x2="97.1" y2="587.35" stroke="#555" stroke-width="0.7"/>
<text x="152.8" y="598.45" font-size="16.2" text-anchor="end" font-weight="normal" fill="#111" textLength="44.5" lengthAdjust="spacingAndGlyphs">0,05 CZ</text>
<rect x="156.3" y="580.6" width="25.4" height="24.5" stroke="#555" stroke-width="0.8" fill="none"/>
<text x="169" y="598.45" font-size="16.2" text-anchor="middle" font-weight="normal" fill="#111" textLength="9.5" lengthAdjust="spacingAndGlyphs">A</text>
<rect x="181.7" y="580.6" width="23.8" height="24.5" stroke="#555" stroke-width="0.8" fill="none"/>
<text x="193.6" y="598.45" font-size="16.2" text-anchor="middle" font-weight="normal" fill="#111" textLength="8.5" lengthAdjust="spacingAndGlyphs">B</text>
<rect x="205.5" y="580.6" width="23.8" height="24.5" stroke="#555" stroke-width="0.8" fill="none"/>
<text x="217.4" y="598.45" font-size="16.2" text-anchor="middle" font-weight="normal" fill="#111" textLength="8.5" lengthAdjust="spacingAndGlyphs">C</text>
<line x1="229.3" y1="579.5" x2="296" y2="566.3" stroke="#444" stroke-width="0.6"/>
<polygon points="307.5,564 302.28,567.08 297.11,568.12 296.32,564.2 301.5,563.16" stroke="#666" stroke-width="0.7" fill="none"/>
<line x1="307.5" y1="564" x2="301.89" y2="565.12" stroke="#333" stroke-width="0.9"/>
<text x="135.2" y="647.5" font-size="18.8" text-anchor="start" font-weight="normal" fill="#111" textLength="93" lengthAdjust="spacingAndGlyphs">THREAD M12</text>
<text x="135.2" y="666.8" font-size="18.8" text-anchor="start" font-weight="normal" fill="#111" textLength="82.8" lengthAdjust="spacingAndGlyphs">ON TOP (Jx)</text>
<line x1="135.2" y1="671.3" x2="231.6" y2="671.3" stroke="#444" stroke-width="0.6"/>
<line x1="231.6" y1="671.3" x2="362" y2="599.5" stroke="#444" stroke-width="0.6"/>
<polygon points="372.5,593.8 368.45,598.31 363.83,600.85 361.9,597.35 366.52,594.8" stroke="#666" stroke-width="0.7" fill="none"/>
<line x1="372.5" y1="593.8" x2="367.49" y2="596.56" stroke="#333" stroke-width="0.9"/>
<rect x="825.3" y="779.6" width="24.3" height="23.8" stroke="#555" stroke-width="0.8" fill="none"/>
<line x1="837.45" y1="784" x2="837.45" y2="798" stroke="#333" stroke-width="1.0"/>
<line x1="829.45" y1="798" x2="845.45" y2="798" stroke="#555" stroke-width="0.8"/>
<rect x="849.6" y="779.6" width="38.6" height="23.8" stroke="#555" stroke-width="0.8" fill="none"/>
<text x="868.9" y="797.1" font-size="16.2" text-anchor="middle" font-weight="normal" fill="#111" textLength="24.4" lengthAdjust="spacingAndGlyphs">0.01</text>
<rect x="888.2" y="779.6" width="24.3" height="23.8" stroke="#555" stroke-width="0.8" fill="none"/>
<text x="900.35" y="797.1" font-size="16.2" text-anchor="middle" font-weight="normal" fill="#111" textLength="9.5" lengthAdjust="spacingAndGlyphs">A</text>
<rect x="825.3" y="803.4" width="24.3" height="24.8" stroke="#555" stroke-width="0.8" fill="none"/>
<line x1="829.45" y1="815.8" x2="845.45" y2="815.8" stroke="#555" stroke-width="0.9"/>
<line x1="832.45" y1="812.3" x2="842.45" y2="812.3" stroke="#888" stroke-width="0.9"/>
<line x1="832.45" y1="819.3" x2="842.45" y2="819.3" stroke="#888" stroke-width="0.9"/>
<rect x="849.6" y="803.4" width="38.6" height="24.8" stroke="#555" stroke-width="0.8" fill="none"/>
<text x="868.9" y="821.4" font-size="16.2" text-anchor="middle" font-weight="normal" fill="#111" textLength="24.4" lengthAdjust="spacingAndGlyphs">0,01</text>
<rect x="856.3" y="741.4" width="25.4" height="23.9" stroke="#555" stroke-width="0.8" fill="none"/>
<text x="869" y="758.95" font-size="16.2" text-anchor="middle" font-weight="normal" fill="#111" textLength="8.5" lengthAdjust="spacingAndGlyphs">B</text>
<polygon points="864,779.6 874,779.6 869,772.1" stroke="#111" stroke-width="0.5" fill="#111"/>
<line x1="869" y1="772.1" x2="869" y2="765.3" stroke="#444" stroke-width="0.7"/>
<line x1="286.8" y1="616" x2="286.8" y2="781" stroke="#555" stroke-width="0.6"/>
<line x1="773.5" y1="616" x2="773.5" y2="781" stroke="#555" stroke-width="0.6"/>
<line x1="286.8" y1="779.6" x2="825.3" y2="779.6" stroke="#555" stroke-width="0.6"/>
<polygon points="286.8,779.6 294.34,777.4 301.3,777.4 301.3,781.8 294.34,781.8" stroke="#666" stroke-width="0.7" fill="none"/>
<line x1="286.8" y1="779.6" x2="294.34" y2="779.6" stroke="#333" stroke-width="0.9"/>
<polygon points="773.5,779.6 765.96,781.8 759,781.8 759,777.4 765.96,777.4" stroke="#666" stroke-width="0.7" fill="none"/>
<line x1="773.5" y1="779.6" x2="765.96" y2="779.6" stroke="#333" stroke-width="0.9"/>
<text x="529.3" y="773.3" font-size="27.5" text-anchor="middle" font-weight="normal" fill="#111" textLength="11.2" lengthAdjust="spacingAndGlyphs">A</text>
<line x1="252.4" y1="545" x2="252.4" y2="813" stroke="#555" stroke-width="0.6"/>
<line x1="807.2" y1="545" x2="807.2" y2="813" stroke="#555" stroke-width="0.6"/>
<line x1="252.4" y1="811.5" x2="807.2" y2="811.5" stroke="#555" stroke-width="0.6"/>
<polygon points="252.4,811.5 259.94,809.3 266.9,809.3 266.9,813.7 259.94,813.7" stroke="#666" stroke-width="0.7" fill="none"/>
<line x1="252.4" y1="811.5" x2="259.94" y2="811.5" stroke="#333" stroke-width="0.9"/>
<polygon points="807.2,811.5 799.66,813.7 792.7,813.7 792.7,809.3 799.66,809.3" stroke="#666" stroke-width="0.7" fill="none"/>
<line x1="807.2" y1="811.5" x2="799.66" y2="811.5" stroke="#333" stroke-width="0.9"/>
<text x="529.6" y="805.6" font-size="28" text-anchor="middle" font-weight="normal" fill="#111" textLength="9.8" lengthAdjust="spacingAndGlyphs">F</text>
<line x1="700" y1="197.3" x2="891" y2="197.3" stroke="#555" stroke-width="0.6"/>
<line x1="700" y1="683.2" x2="891" y2="683.2" stroke="#555" stroke-width="0.6"/>
<line x1="885.5" y1="197.6" x2="885.5" y2="683.2" stroke="#555" stroke-width="0.6"/>
<polygon points="885.5,197.8 887.7,205.34 887.7,212.3 883.3,212.3 883.3,205.34" stroke="#666" stroke-width="0.7" fill="none"/>
<line x1="885.5" y1="197.8" x2="885.5" y2="205.34" stroke="#333" stroke-width="0.9"/>
<polygon points="885.5,683 883.3,675.46 883.3,668.5 887.7,668.5 887.7,675.46" stroke="#666" stroke-width="0.7" fill="none"/>
<line x1="885.5" y1="683" x2="885.5" y2="675.46" stroke="#333" stroke-width="0.9"/>
<text x="0" y="0" font-size="27.5" text-anchor="middle" fill="#111" stroke="#111" stroke-width="0.35" textLength="10.4" lengthAdjust="spacingAndGlyphs" transform="translate(879.4 440.3) rotate(-90)">B</text>
<line x1="770.5" y1="379.7" x2="856" y2="379.7" stroke="#555" stroke-width="0.6"/>
<line x1="770.5" y1="440.5" x2="856" y2="440.5" stroke="#555" stroke-width="0.6"/>
<line x1="770.5" y1="501.3" x2="856" y2="501.3" stroke="#555" stroke-width="0.6"/>
<line x1="750.6" y1="379.7" x2="756" y2="379.7" stroke="#777" stroke-width="0.5"/>
<line x1="750.6" y1="501.3" x2="758" y2="501.3" stroke="#777" stroke-width="0.5"/>
<line x1="853.5" y1="379.7" x2="853.5" y2="501.3" stroke="#555" stroke-width="0.6"/>
<polygon points="853.5,379.7 855.7,387.24 855.7,394.2 851.3,394.2 851.3,387.24" stroke="#666" stroke-width="0.7" fill="none"/>
<line x1="853.5" y1="379.7" x2="853.5" y2="387.24" stroke="#333" stroke-width="0.9"/>
<polygon points="853.5,440.2 851.3,432.66 851.3,425.7 855.7,425.7 855.7,432.66" stroke="#666" stroke-width="0.7" fill="none"/>
<line x1="853.5" y1="440.2" x2="853.5" y2="432.66" stroke="#333" stroke-width="0.9"/>
<polygon points="853.5,440.8 855.7,448.34 855.7,455.3 851.3,455.3 851.3,448.34" stroke="#666" stroke-width="0.7" fill="none"/>
<line x1="853.5" y1="440.8" x2="853.5" y2="448.34" stroke="#333" stroke-width="0.9"/>
<polygon points="853.5,501.3 851.3,493.76 851.3,486.8 855.7,486.8 855.7,493.76" stroke="#666" stroke-width="0.7" fill="none"/>
<line x1="853.5" y1="501.3" x2="853.5" y2="493.76" stroke="#333" stroke-width="0.9"/>
<rect x="816.2" y="399.3" width="31.5" height="21.2" stroke="#555" stroke-width="0.8" fill="#fff"/>
<path d="M 823.15 414.5 L 840.75 414.5 M 824.15 414.5 L 824.15 405.3 M 831.95 414.5 L 831.95 406.2 M 839.75 414.5 L 839.75 405.3" stroke="#111" stroke-width="2.0" fill="none" stroke-linecap="square"/>
<rect x="816.2" y="460.3" width="31.5" height="20.9" stroke="#555" stroke-width="0.8" fill="#fff"/>
<path d="M 823.15 475.35 L 840.75 475.35 M 824.15 475.35 L 824.15 466.15 M 831.95 475.35 L 831.95 467.05 M 839.75 475.35 L 839.75 466.15" stroke="#111" stroke-width="2.0" fill="none" stroke-linecap="square"/>
<line x1="232" y1="410.1" x2="294" y2="410.1" stroke="#555" stroke-width="0.6"/>
<line x1="232" y1="470.9" x2="294" y2="470.9" stroke="#555" stroke-width="0.6"/>
<line x1="234.8" y1="410.1" x2="234.8" y2="470.9" stroke="#555" stroke-width="0.6"/>
<polygon points="234.8,410.1 237,417.64 237,424.6 232.6,424.6 232.6,417.64" stroke="#666" stroke-width="0.7" fill="none"/>
<line x1="234.8" y1="410.1" x2="234.8" y2="417.64" stroke="#333" stroke-width="0.9"/>
<polygon points="234.8,470.9 232.6,463.36 232.6,456.4 237,456.4 237,463.36" stroke="#666" stroke-width="0.7" fill="none"/>
<line x1="234.8" y1="470.9" x2="234.8" y2="463.36" stroke="#333" stroke-width="0.9"/>
<rect x="201.8" y="431.6" width="26.2" height="19.4" stroke="#555" stroke-width="0.8" fill="#fff"/>
<path d="M 206.75 445.9 L 223.05 445.9 M 207.75 445.9 L 207.75 436.7 M 214.9 445.9 L 214.9 437.6 M 222.05 445.9 L 222.05 436.7" stroke="#111" stroke-width="2.0" fill="none" stroke-linecap="square"/>
<line x1="499.4" y1="178.5" x2="560.2" y2="178.5" stroke="#555" stroke-width="0.6"/>
<polygon points="499.4,178.5 506.94,176.3 513.9,176.3 513.9,180.7 506.94,180.7" stroke="#666" stroke-width="0.7" fill="none"/>
<line x1="499.4" y1="178.5" x2="506.94" y2="178.5" stroke="#333" stroke-width="0.9"/>
<polygon points="560.2,178.5 552.66,180.7 545.7,180.7 545.7,176.3 552.66,176.3" stroke="#666" stroke-width="0.7" fill="none"/>
<line x1="560.2" y1="178.5" x2="552.66" y2="178.5" stroke="#333" stroke-width="0.9"/>
<rect x="520.5" y="146.3" width="18.1" height="27.5" stroke="#555" stroke-width="0.8" fill="#fff"/>
<path d="M 525.35 151.9 L 525.35 168.2 M 525.35 152.65 L 533.75 152.65 M 525.35 160.05 L 532.85 160.05 M 525.35 167.45 L 533.75 167.45" stroke="#111" stroke-width="1.5" fill="none" stroke-linecap="square"/>
<line x1="469" y1="663" x2="469" y2="733" stroke="#555" stroke-width="0.6"/>
<line x1="529.8" y1="663" x2="529.8" y2="733" stroke="#555" stroke-width="0.6"/>
<line x1="590.6" y1="663" x2="590.6" y2="733" stroke="#555" stroke-width="0.6"/>
<line x1="469" y1="730.4" x2="590.6" y2="730.4" stroke="#555" stroke-width="0.6"/>
<polygon points="469,730.4 476.54,728.2 483.5,728.2 483.5,732.6 476.54,732.6" stroke="#666" stroke-width="0.7" fill="none"/>
<line x1="469" y1="730.4" x2="476.54" y2="730.4" stroke="#333" stroke-width="0.9"/>
<polygon points="529.5,730.4 521.96,732.6 515,732.6 515,728.2 521.96,728.2" stroke="#666" stroke-width="0.7" fill="none"/>
<line x1="529.5" y1="730.4" x2="521.96" y2="730.4" stroke="#333" stroke-width="0.9"/>
<polygon points="530.1,730.4 537.64,728.2 544.6,728.2 544.6,732.6 537.64,732.6" stroke="#666" stroke-width="0.7" fill="none"/>
<line x1="530.1" y1="730.4" x2="537.64" y2="730.4" stroke="#333" stroke-width="0.9"/>
<polygon points="590.6,730.4 583.06,732.6 576.1,732.6 576.1,728.2 583.06,728.2" stroke="#666" stroke-width="0.7" fill="none"/>
<line x1="590.6" y1="730.4" x2="583.06" y2="730.4" stroke="#333" stroke-width="0.9"/>
<rect x="486.3" y="693.2" width="21.6" height="30.9" stroke="#555" stroke-width="0.8" fill="#fff"/>
<path d="M 492.9 699.75 L 492.9 717.55 M 492.9 700.5 L 501.3 700.5 M 492.9 708.65 L 500.4 708.65 M 492.9 716.8 L 501.3 716.8" stroke="#111" stroke-width="1.5" fill="none" stroke-linecap="square"/>
<rect x="548.1" y="693.2" width="20.5" height="30.9" stroke="#555" stroke-width="0.8" fill="#fff"/>
<path d="M 554.15 699.75 L 554.15 717.55 M 554.15 700.5 L 562.55 700.5 M 554.15 708.65 L 561.65 708.65 M 554.15 716.8 L 562.55 716.8" stroke="#111" stroke-width="1.5" fill="none" stroke-linecap="square"/>
<rect x="756" y="376.3" width="14" height="8" fill="#fff"/>
<text x="763" y="383.3" font-size="9.5" text-anchor="middle" font-weight="bold" fill="#222" textLength="13" lengthAdjust="spacingAndGlyphs">+50</text>
<rect x="765.2" y="437" width="4.8" height="8" fill="#fff"/>
<text x="767.6" y="444" font-size="9.5" text-anchor="middle" font-weight="bold" fill="#222" textLength="3.8" lengthAdjust="spacingAndGlyphs">0</text>
<rect x="758.2" y="497.7" width="11.8" height="8" fill="#fff"/>
<text x="764.1" y="504.7" font-size="9.5" text-anchor="middle" font-weight="bold" fill="#222" textLength="10.8" lengthAdjust="spacingAndGlyphs">-50</text>
<rect x="463.7" y="673.2" width="11.8" height="8" fill="#fff"/>
<text x="469.6" y="680.2" font-size="9.5" text-anchor="middle" font-weight="bold" fill="#222" textLength="10.8" lengthAdjust="spacingAndGlyphs">-50</text>
<rect x="527.6" y="672.3" width="4.8" height="8" fill="#fff"/>
<text x="530" y="679.3" font-size="9.5" text-anchor="middle" font-weight="bold" fill="#222" textLength="3.8" lengthAdjust="spacingAndGlyphs">0</text>
<rect x="584.5" y="674" width="14" height="8" fill="#fff"/>
<text x="591.5" y="681" font-size="9.5" text-anchor="middle" font-weight="bold" fill="#222" textLength="13" lengthAdjust="spacingAndGlyphs">+50</text>
<text x="346.8" y="186.7" font-size="24.3" text-anchor="middle" font-weight="normal" fill="#222" textLength="10.4" lengthAdjust="spacingAndGlyphs">A</text>
<line x1="353.2" y1="178.3" x2="363" y2="178.3" stroke="#444" stroke-width="0.7"/>
<polygon points="376.3,178.3 369.02,180.5 362.3,180.5 362.3,176.1 369.02,176.1" stroke="#333" stroke-width="0.7" fill="none"/>
<line x1="376.3" y1="178.3" x2="369.02" y2="178.3" stroke="#333" stroke-width="0.9"/>
<line x1="377.6" y1="171.5" x2="377.6" y2="186" stroke="#222" stroke-width="0.8"/>
<text x="495.5" y="751.6" font-size="24.3" text-anchor="middle" font-weight="normal" fill="#222" textLength="10.4" lengthAdjust="spacingAndGlyphs">A</text>
<line x1="505.8" y1="744" x2="516" y2="744" stroke="#444" stroke-width="0.7"/>
<polygon points="529,744 521.72,746.2 515,746.2 515,741.8 521.72,741.8" stroke="#333" stroke-width="0.7" fill="none"/>
<line x1="529" y1="744" x2="521.72" y2="744" stroke="#333" stroke-width="0.9"/>
<line x1="529.4" y1="736" x2="529.4" y2="748" stroke="#222" stroke-width="0.8"/>
<defs><pattern id="hat" patternUnits="userSpaceOnUse" width="10.7" height="10.7"><path d="M0,10.7 L10.7,0 M-2,2 L2,-2 M8.7,12.7 L12.7,8.7" stroke="#444" stroke-width="0.75"/></pattern></defs>
<path d="M 999 197.5 L 1047.7 197.5 L 1048.6 204.7 L 1057 205.5 Q 1059.4 206 1059.4 209 L 1059.4 247.4 Q 1059.4 250.4 1056.4 250.4 L 999 250.4 Z" stroke="#333" stroke-width="0.9" fill="url(#hat)"/>
<path d="M 999 265.7 L 1056.4 265.7 Q 1059.4 265.7 1059.4 268.7 L 1059.4 278.8 Q 1059.4 281.8 1056.4 281.8 L 999 281.8 Z" stroke="#333" stroke-width="0.9" fill="url(#hat)"/>
<path d="M 999 295.3 L 1056.4 295.3 Q 1059.4 295.3 1059.4 298.3 L 1059.4 307.5 Q 1059.4 310.5 1056.4 310.5 L 999 310.5 Z" stroke="#333" stroke-width="0.9" fill="url(#hat)"/>
<path d="M 999 326.6 L 1056.4 326.6 Q 1059.4 326.6 1059.4 329.6 L 1059.4 368.5 Q 1059.4 371.5 1056.4 371.5 L 999 371.5 Z" stroke="#333" stroke-width="0.9" fill="url(#hat)"/>
<path d="M 999 386.6 L 1056.4 386.6 Q 1059.4 386.6 1059.4 389.6 L 1059.4 418.2 Q 1059.4 421.2 1056.4 421.2 L 999 421.2 Z" stroke="#333" stroke-width="0.9" fill="url(#hat)"/>
<path d="M 999 421.2 L 1048.6 421.2 L 1048.6 463.2 L 999 463.2 Z" stroke="#333" stroke-width="0.9" fill="url(#hat)"/>
<path d="M 999 478.3 L 1048.6 478.3 L 1048.6 494.8 L 999 494.8 Z" stroke="#333" stroke-width="0.9" fill="url(#hat)"/>
<path d="M 999 507.9 L 1048.6 507.9 L 1048.6 523.4 L 999 523.4 Z" stroke="#333" stroke-width="0.9" fill="url(#hat)"/>
<path d="M 999 538.9 L 1048.6 538.9 L 1048.6 554.5 L 999 554.5 Z" stroke="#333" stroke-width="0.9" fill="url(#hat)"/>
<path d="M 999 570 L 1048.6 570 L 1048.6 584.3 L 999 584.3 Z" stroke="#333" stroke-width="0.9" fill="url(#hat)"/>
<path d="M 999 599.8 L 1048.6 599.8 L 1048.6 615.3 L 999 615.3 Z" stroke="#333" stroke-width="0.9" fill="url(#hat)"/>
<path d="M 999 630.8 L 1048.6 630.8 L 1048.6 683.3 L 999 683.3 Z" stroke="#333" stroke-width="0.9" fill="url(#hat)"/>
<rect x="999" y="197.5" width="21.9" height="11.7" stroke="#333" stroke-width="0.8" fill="#fff"/>
<line x1="1017.5" y1="197.5" x2="1017.5" y2="209.2" stroke="#666" stroke-width="0.6"/>
<rect x="999" y="433" width="23.8" height="14.8" fill="#fff" stroke="#333" stroke-width="0.9"/>
<rect x="1022.8" y="428.4" width="26.3" height="24" fill="#fff" stroke="#333" stroke-width="0.9"/>
<line x1="995" y1="440.4" x2="1063.4" y2="440.4" stroke="#888" stroke-width="0.5" stroke-dasharray="10 3 2 3"/>
<rect x="999" y="645.9" width="34" height="14.8" fill="#fff" stroke="#333" stroke-width="0.9"/>
<rect x="1033" y="641.3" width="16.1" height="24" fill="#fff" stroke="#333" stroke-width="0.9"/>
<line x1="995" y1="653.3" x2="1063.4" y2="653.3" stroke="#888" stroke-width="0.5" stroke-dasharray="10 3 2 3"/>
<rect x="999" y="250.45" width="49.6" height="15.2" fill="#fff" stroke="#333" stroke-width="0.9"/>
<rect x="1000.2" y="251.75" width="6" height="12.6" stroke="#333" stroke-width="0.8" fill="none"/>
<line x1="1006.2" y1="252.65" x2="1028.5" y2="252.65" stroke="#555" stroke-width="0.6"/>
<line x1="1006.2" y1="263.45" x2="1028.5" y2="263.45" stroke="#555" stroke-width="0.6"/>
<rect x="1028.5" y="253.75" width="12" height="8.6" stroke="#333" stroke-width="0.9" fill="#fff"/>
<line x1="1028.5" y1="256.55" x2="1040.5" y2="256.55" stroke="#777" stroke-width="0.5"/>
<polyline points="1040.5,253.75 1045,258.05 1040.5,262.35" stroke="#555" stroke-width="0.6" fill="none"/>
<line x1="1045" y1="256.75" x2="1049" y2="256.75" stroke="#555" stroke-width="0.5"/>
<line x1="1045" y1="259.35" x2="1049" y2="259.35" stroke="#555" stroke-width="0.5"/>
<line x1="995" y1="258.05" x2="1052.6" y2="258.05" stroke="#888" stroke-width="0.5" stroke-dasharray="10 3 2 3"/>
<rect x="999" y="310.9" width="49.6" height="15.2" fill="#fff" stroke="#333" stroke-width="0.9"/>
<rect x="1000.2" y="312.2" width="6" height="12.6" stroke="#333" stroke-width="0.8" fill="none"/>
<line x1="1006.2" y1="313.1" x2="1028.5" y2="313.1" stroke="#555" stroke-width="0.6"/>
<line x1="1006.2" y1="323.9" x2="1028.5" y2="323.9" stroke="#555" stroke-width="0.6"/>
<rect x="1028.5" y="314.2" width="12" height="8.6" stroke="#333" stroke-width="0.9" fill="#fff"/>
<line x1="1028.5" y1="317" x2="1040.5" y2="317" stroke="#777" stroke-width="0.5"/>
<polyline points="1040.5,314.2 1045,318.5 1040.5,322.8" stroke="#555" stroke-width="0.6" fill="none"/>
<line x1="1045" y1="317.2" x2="1049" y2="317.2" stroke="#555" stroke-width="0.5"/>
<line x1="1045" y1="319.8" x2="1049" y2="319.8" stroke="#555" stroke-width="0.5"/>
<line x1="995" y1="318.5" x2="1052.6" y2="318.5" stroke="#888" stroke-width="0.5" stroke-dasharray="10 3 2 3"/>
<rect x="999" y="371.4" width="49.6" height="15.2" fill="#fff" stroke="#333" stroke-width="0.9"/>
<rect x="1000.2" y="372.7" width="6" height="12.6" stroke="#333" stroke-width="0.8" fill="none"/>
<line x1="1006.2" y1="373.6" x2="1028.5" y2="373.6" stroke="#555" stroke-width="0.6"/>
<line x1="1006.2" y1="384.4" x2="1028.5" y2="384.4" stroke="#555" stroke-width="0.6"/>
<rect x="1028.5" y="374.7" width="12" height="8.6" stroke="#333" stroke-width="0.9" fill="#fff"/>
<line x1="1028.5" y1="377.5" x2="1040.5" y2="377.5" stroke="#777" stroke-width="0.5"/>
<polyline points="1040.5,374.7 1045,379 1040.5,383.3" stroke="#555" stroke-width="0.6" fill="none"/>
<line x1="1045" y1="377.7" x2="1049" y2="377.7" stroke="#555" stroke-width="0.5"/>
<line x1="1045" y1="380.3" x2="1049" y2="380.3" stroke="#555" stroke-width="0.5"/>
<line x1="995" y1="379" x2="1052.6" y2="379" stroke="#888" stroke-width="0.5" stroke-dasharray="10 3 2 3"/>
<rect x="999" y="463.2" width="49.6" height="15.2" fill="#fff" stroke="#333" stroke-width="0.9"/>
<rect x="1000.2" y="464.5" width="6" height="12.6" stroke="#333" stroke-width="0.8" fill="none"/>
<line x1="1006.2" y1="465.4" x2="1028.5" y2="465.4" stroke="#555" stroke-width="0.6"/>
<line x1="1006.2" y1="476.2" x2="1028.5" y2="476.2" stroke="#555" stroke-width="0.6"/>
<rect x="1028.5" y="466.5" width="12" height="8.6" stroke="#333" stroke-width="0.9" fill="#fff"/>
<line x1="1028.5" y1="469.3" x2="1040.5" y2="469.3" stroke="#777" stroke-width="0.5"/>
<polyline points="1040.5,466.5 1045,470.8 1040.5,475.1" stroke="#555" stroke-width="0.6" fill="none"/>
<line x1="1045" y1="469.5" x2="1049" y2="469.5" stroke="#555" stroke-width="0.5"/>
<line x1="1045" y1="472.1" x2="1049" y2="472.1" stroke="#555" stroke-width="0.5"/>
<line x1="995" y1="470.8" x2="1052.6" y2="470.8" stroke="#888" stroke-width="0.5" stroke-dasharray="10 3 2 3"/>
<rect x="999" y="493.7" width="49.6" height="15.2" fill="#fff" stroke="#333" stroke-width="0.9"/>
<rect x="1000.2" y="495" width="6" height="12.6" stroke="#333" stroke-width="0.8" fill="none"/>
<line x1="1006.2" y1="495.9" x2="1028.5" y2="495.9" stroke="#555" stroke-width="0.6"/>
<line x1="1006.2" y1="506.7" x2="1028.5" y2="506.7" stroke="#555" stroke-width="0.6"/>
<rect x="1028.5" y="497" width="12" height="8.6" stroke="#333" stroke-width="0.9" fill="#fff"/>
<line x1="1028.5" y1="499.8" x2="1040.5" y2="499.8" stroke="#777" stroke-width="0.5"/>
<polyline points="1040.5,497 1045,501.3 1040.5,505.6" stroke="#555" stroke-width="0.6" fill="none"/>
<line x1="1045" y1="500" x2="1049" y2="500" stroke="#555" stroke-width="0.5"/>
<line x1="1045" y1="502.6" x2="1049" y2="502.6" stroke="#555" stroke-width="0.5"/>
<line x1="995" y1="501.3" x2="1052.6" y2="501.3" stroke="#888" stroke-width="0.5" stroke-dasharray="10 3 2 3"/>
<rect x="999" y="523.5" width="49.6" height="15.2" fill="#fff" stroke="#333" stroke-width="0.9"/>
<rect x="1000.2" y="524.8" width="6" height="12.6" stroke="#333" stroke-width="0.8" fill="none"/>
<line x1="1006.2" y1="525.7" x2="1028.5" y2="525.7" stroke="#555" stroke-width="0.6"/>
<line x1="1006.2" y1="536.5" x2="1028.5" y2="536.5" stroke="#555" stroke-width="0.6"/>
<rect x="1028.5" y="526.8" width="12" height="8.6" stroke="#333" stroke-width="0.9" fill="#fff"/>
<line x1="1028.5" y1="529.6" x2="1040.5" y2="529.6" stroke="#777" stroke-width="0.5"/>
<polyline points="1040.5,526.8 1045,531.1 1040.5,535.4" stroke="#555" stroke-width="0.6" fill="none"/>
<line x1="1045" y1="529.8" x2="1049" y2="529.8" stroke="#555" stroke-width="0.5"/>
<line x1="1045" y1="532.4" x2="1049" y2="532.4" stroke="#555" stroke-width="0.5"/>
<line x1="995" y1="531.1" x2="1052.6" y2="531.1" stroke="#888" stroke-width="0.5" stroke-dasharray="10 3 2 3"/>
<rect x="999" y="554.6" width="49.6" height="15.2" fill="#fff" stroke="#333" stroke-width="0.9"/>
<rect x="1000.2" y="555.9" width="6" height="12.6" stroke="#333" stroke-width="0.8" fill="none"/>
<line x1="1006.2" y1="556.8" x2="1028.5" y2="556.8" stroke="#555" stroke-width="0.6"/>
<line x1="1006.2" y1="567.6" x2="1028.5" y2="567.6" stroke="#555" stroke-width="0.6"/>
<rect x="1028.5" y="557.9" width="12" height="8.6" stroke="#333" stroke-width="0.9" fill="#fff"/>
<line x1="1028.5" y1="560.7" x2="1040.5" y2="560.7" stroke="#777" stroke-width="0.5"/>
<polyline points="1040.5,557.9 1045,562.2 1040.5,566.5" stroke="#555" stroke-width="0.6" fill="none"/>
<line x1="1045" y1="560.9" x2="1049" y2="560.9" stroke="#555" stroke-width="0.5"/>
<line x1="1045" y1="563.5" x2="1049" y2="563.5" stroke="#555" stroke-width="0.5"/>
<line x1="995" y1="562.2" x2="1052.6" y2="562.2" stroke="#888" stroke-width="0.5" stroke-dasharray="10 3 2 3"/>
<rect x="999" y="584.4" width="49.6" height="15.2" fill="#fff" stroke="#333" stroke-width="0.9"/>
<rect x="1000.2" y="585.7" width="6" height="12.6" stroke="#333" stroke-width="0.8" fill="none"/>
<line x1="1006.2" y1="586.6" x2="1028.5" y2="586.6" stroke="#555" stroke-width="0.6"/>
<line x1="1006.2" y1="597.4" x2="1028.5" y2="597.4" stroke="#555" stroke-width="0.6"/>
<rect x="1028.5" y="587.7" width="12" height="8.6" stroke="#333" stroke-width="0.9" fill="#fff"/>
<line x1="1028.5" y1="590.5" x2="1040.5" y2="590.5" stroke="#777" stroke-width="0.5"/>
<polyline points="1040.5,587.7 1045,592 1040.5,596.3" stroke="#555" stroke-width="0.6" fill="none"/>
<line x1="1045" y1="590.7" x2="1049" y2="590.7" stroke="#555" stroke-width="0.5"/>
<line x1="1045" y1="593.3" x2="1049" y2="593.3" stroke="#555" stroke-width="0.5"/>
<line x1="995" y1="592" x2="1052.6" y2="592" stroke="#888" stroke-width="0.5" stroke-dasharray="10 3 2 3"/>
<rect x="999" y="615.4" width="49.6" height="15.2" fill="#fff" stroke="#333" stroke-width="0.9"/>
<rect x="1000.2" y="616.7" width="6" height="12.6" stroke="#333" stroke-width="0.8" fill="none"/>
<line x1="1006.2" y1="617.6" x2="1028.5" y2="617.6" stroke="#555" stroke-width="0.6"/>
<line x1="1006.2" y1="628.4" x2="1028.5" y2="628.4" stroke="#555" stroke-width="0.6"/>
<rect x="1028.5" y="618.7" width="12" height="8.6" stroke="#333" stroke-width="0.9" fill="#fff"/>
<line x1="1028.5" y1="621.5" x2="1040.5" y2="621.5" stroke="#777" stroke-width="0.5"/>
<polyline points="1040.5,618.7 1045,623 1040.5,627.3" stroke="#555" stroke-width="0.6" fill="none"/>
<line x1="1045" y1="621.7" x2="1049" y2="621.7" stroke="#555" stroke-width="0.5"/>
<line x1="1045" y1="624.3" x2="1049" y2="624.3" stroke="#555" stroke-width="0.5"/>
<line x1="995" y1="623" x2="1052.6" y2="623" stroke="#888" stroke-width="0.5" stroke-dasharray="10 3 2 3"/>
<rect x="999" y="281.7" width="60.4" height="13.6" fill="#fff" stroke="#333" stroke-width="0.9"/>
<rect x="1000.2" y="283" width="6" height="11" stroke="#333" stroke-width="0.8" fill="none"/>
<line x1="1006.2" y1="283.9" x2="1028.5" y2="283.9" stroke="#555" stroke-width="0.6"/>
<line x1="1006.2" y1="293.1" x2="1028.5" y2="293.1" stroke="#555" stroke-width="0.6"/>
<rect x="1028.5" y="284.2" width="12" height="8.6" stroke="#333" stroke-width="0.9" fill="#fff"/>
<line x1="1028.5" y1="287" x2="1040.5" y2="287" stroke="#777" stroke-width="0.5"/>
<polyline points="1040.5,284.2 1045,288.5 1040.5,292.8" stroke="#555" stroke-width="0.6" fill="none"/>
<line x1="1045" y1="287.2" x2="1049" y2="287.2" stroke="#555" stroke-width="0.5"/>
<line x1="1045" y1="289.8" x2="1049" y2="289.8" stroke="#555" stroke-width="0.5"/>
<line x1="995" y1="288.5" x2="1052.6" y2="288.5" stroke="#888" stroke-width="0.5" stroke-dasharray="10 3 2 3"/>
<circle cx="1003.2" cy="255.2" r="2.6" stroke="#222" stroke-width="0.6" fill="#222"/>
<circle cx="1043.3" cy="255.2" r="2.6" stroke="#222" stroke-width="0.6" fill="#222"/>
<path d="M 1048.6 421.2 L 1057.9 422.2 L 1059.4 424.2 L 1059.4 427 L 1048.6 431 Z" stroke="#333" stroke-width="0.9" fill="#fff"/>
<line x1="1050.6" y1="422.2" x2="1050.6" y2="430" stroke="#666" stroke-width="0.6"/>
<path d="M 1048.6 449.4 L 1057.9 450.4 L 1059.4 452.4 L 1059.4 488.1 L 1048.6 492.1 Z" stroke="#333" stroke-width="0.9" fill="#fff"/>
<line x1="1050.6" y1="450.4" x2="1050.6" y2="491.1" stroke="#666" stroke-width="0.6"/>
<path d="M 1048.6 510 L 1057.9 511 L 1059.4 513 L 1059.4 549 L 1048.6 553 Z" stroke="#333" stroke-width="0.9" fill="#fff"/>
<line x1="1050.6" y1="511" x2="1050.6" y2="552" stroke="#666" stroke-width="0.6"/>
<path d="M 1048.6 571 L 1057.9 572 L 1059.4 574 L 1059.4 610 L 1048.6 614 Z" stroke="#333" stroke-width="0.9" fill="#fff"/>
<line x1="1050.6" y1="572" x2="1050.6" y2="613" stroke="#666" stroke-width="0.6"/>
<path d="M 1048.6 631.7 L 1057.9 632.7 L 1059.4 634.7 L 1059.4 670.7 L 1048.6 674.7 Z" stroke="#333" stroke-width="0.9" fill="#fff"/>
<line x1="1050.6" y1="632.7" x2="1050.6" y2="673.7" stroke="#666" stroke-width="0.6"/>
<line x1="999" y1="197.5" x2="999" y2="683.3" stroke="#222" stroke-width="1.1"/>
<circle cx="1040.4" cy="444.1" r="2.2" stroke="none" stroke-width="0" fill="#111"/>
<circle cx="1043.4" cy="647.3" r="2.2" stroke="none" stroke-width="0" fill="#111"/>
<text x="1082.7" y="270.3" font-size="18.8" text-anchor="start" font-weight="normal" fill="#111" textLength="57.9" lengthAdjust="spacingAndGlyphs">PLASTIC</text>
<text x="1082.7" y="289.5" font-size="18.8" text-anchor="start" font-weight="normal" fill="#111" textLength="95.2" lengthAdjust="spacingAndGlyphs">PROTECTORS</text>
<line x1="1081.8" y1="293.3" x2="1178" y2="293.3" stroke="#444" stroke-width="0.6"/>
<line x1="1081.8" y1="293.3" x2="1045" y2="259.5" stroke="#444" stroke-width="0.6"/>
<line x1="1081.8" y1="293.3" x2="1005.5" y2="257.5" stroke="#444" stroke-width="0.6"/>
<text x="1083" y="520.8" font-size="18.8" text-anchor="start" font-weight="normal" fill="#111" textLength="78.3" lengthAdjust="spacingAndGlyphs">BOLT HOLE</text>
<text x="1083" y="540.2" font-size="18.8" text-anchor="start" font-weight="normal" fill="#111" textLength="25.8" lengthAdjust="spacingAndGlyphs">(Kx)</text>
<line x1="1082" y1="544.2" x2="1162.3" y2="544.2" stroke="#444" stroke-width="0.6"/>
<line x1="1082" y1="544.2" x2="1041.5" y2="446" stroke="#444" stroke-width="0.6"/>
<line x1="1082" y1="544.2" x2="1044" y2="645" stroke="#444" stroke-width="0.6"/>
<text x="966.7" y="737.4" font-size="28" text-anchor="start" font-weight="normal" fill="#111" textLength="123.1" lengthAdjust="spacingAndGlyphs">SECTION A-A</text>
</svg>
</body></html>
